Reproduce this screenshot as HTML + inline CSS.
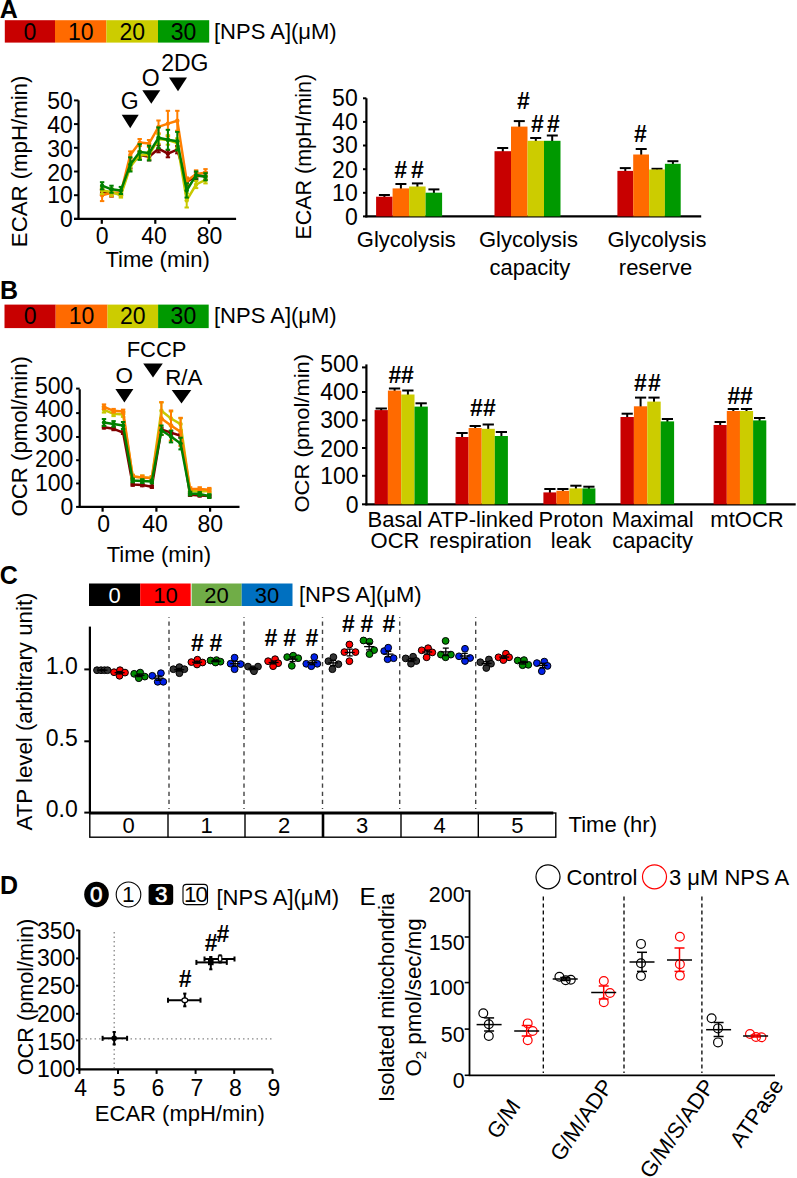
<!DOCTYPE html>
<html><head><meta charset="utf-8"><style>
html,body{margin:0;padding:0;background:#fff;}
svg{display:block;font-family:"Liberation Sans", sans-serif;}
</style></head><body>
<svg width="797" height="1178" viewBox="0 0 797 1178">
<rect width="797" height="1178" fill="#fff"/>
<text x="-0.3" y="17.6" font-size="25" text-anchor="start" font-weight="bold" fill="#000" >A</text>
<rect x="4.8" y="20.2" width="50.2" height="22.4" fill="#C80000" />
<text x="29.9" y="39.9" font-size="23" text-anchor="middle" font-weight="normal" fill="#000" >0</text>
<rect x="55.0" y="20.2" width="51.4" height="22.4" fill="#FF6A00" />
<text x="80.7" y="39.9" font-size="23" text-anchor="middle" font-weight="normal" fill="#000" >10</text>
<rect x="106.4" y="20.2" width="51.6" height="22.4" fill="#CCCC00" />
<text x="132.2" y="39.9" font-size="23" text-anchor="middle" font-weight="normal" fill="#000" >20</text>
<rect x="158.0" y="20.2" width="51.2" height="22.4" fill="#009900" />
<text x="183.6" y="39.9" font-size="23" text-anchor="middle" font-weight="normal" fill="#000" >30</text>
<text x="214.0" y="38.6" font-size="22" text-anchor="start" font-weight="normal" fill="#000" >[NPS A](μM)</text>
<line x1="78.5" y1="100.4" x2="78.5" y2="219.9" stroke="#000" stroke-width="2.2" />
<line x1="74.0" y1="218.9" x2="236.1" y2="218.9" stroke="#000" stroke-width="2.2" />
<line x1="74.0" y1="218.9" x2="78.5" y2="218.9" stroke="#000" stroke-width="2" />
<text x="72.9" y="226.8" font-size="23" text-anchor="end" font-weight="normal" fill="#000" >0</text>
<line x1="74.0" y1="195.2" x2="78.5" y2="195.2" stroke="#000" stroke-width="2" />
<text x="72.9" y="203.4" font-size="23" text-anchor="end" font-weight="normal" fill="#000" >10</text>
<line x1="74.0" y1="171.5" x2="78.5" y2="171.5" stroke="#000" stroke-width="2" />
<text x="72.9" y="180.5" font-size="23" text-anchor="end" font-weight="normal" fill="#000" >20</text>
<line x1="74.0" y1="147.8" x2="78.5" y2="147.8" stroke="#000" stroke-width="2" />
<text x="72.9" y="157.0" font-size="23" text-anchor="end" font-weight="normal" fill="#000" >30</text>
<line x1="74.0" y1="124.1" x2="78.5" y2="124.1" stroke="#000" stroke-width="2" />
<text x="72.9" y="132.6" font-size="23" text-anchor="end" font-weight="normal" fill="#000" >40</text>
<line x1="74.0" y1="100.4" x2="78.5" y2="100.4" stroke="#000" stroke-width="2" />
<text x="72.9" y="108.8" font-size="23" text-anchor="end" font-weight="normal" fill="#000" >50</text>
<line x1="101.8" y1="218.9" x2="101.8" y2="223.8" stroke="#000" stroke-width="2.2" />
<text x="102.2" y="243.6" font-size="23" text-anchor="middle" font-weight="normal" fill="#000" >0</text>
<line x1="155.3" y1="218.9" x2="155.3" y2="223.8" stroke="#000" stroke-width="2.2" />
<text x="154.1" y="243.6" font-size="23" text-anchor="middle" font-weight="normal" fill="#000" >40</text>
<line x1="209.0" y1="218.9" x2="209.0" y2="223.8" stroke="#000" stroke-width="2.2" />
<text x="209.5" y="243.6" font-size="23" text-anchor="middle" font-weight="normal" fill="#000" >80</text>
<text x="157.6" y="267.4" font-size="22" text-anchor="middle" font-weight="normal" fill="#000" >Time (min)</text>
<text transform="translate(26.8,161.4) rotate(-90)" font-size="21.5" text-anchor="middle" fill="#000" textLength="171.5" lengthAdjust="spacingAndGlyphs">ECAR (mpH/min)</text>
<polygon points="121.7,114.7 138.7,114.7 130.2,128.3" fill="#000"/>
<text x="129.8" y="109.2" font-size="23" text-anchor="middle" font-weight="normal" fill="#000" >G</text>
<polygon points="142.3,90.2 160.3,90.2 151.3,103.8" fill="#000"/>
<text x="150.6" y="85.6" font-size="23" text-anchor="middle" font-weight="normal" fill="#000" >O</text>
<polygon points="169.0,77.5 187.0,77.5 178.0,91.2" fill="#000"/>
<text x="184.8" y="71.3" font-size="23" text-anchor="middle" font-weight="normal" fill="#000" >2DG</text>
<polyline points="102.1,192.1 111.5,193.1 120.9,193.1 130.3,164.9 139.7,154.9 149.1,156.8 158.5,148.7 167.9,153.7 177.3,149.7 186.7,181.9 196.1,176.0 205.5,176.0" fill="none" stroke="#800000" stroke-width="2.5" stroke-linejoin="round"/>
<line x1="102.1" y1="189.7" x2="102.1" y2="194.5" stroke="#800000" stroke-width="2" />
<line x1="99.9" y1="189.7" x2="104.3" y2="189.7" stroke="#800000" stroke-width="2" />
<line x1="99.9" y1="194.5" x2="104.3" y2="194.5" stroke="#800000" stroke-width="2" />
<circle cx="102.1" cy="192.1" r="2.2" fill="#800000"/>
<line x1="111.5" y1="189.5" x2="111.5" y2="196.6" stroke="#800000" stroke-width="2" />
<line x1="109.3" y1="189.5" x2="113.7" y2="189.5" stroke="#800000" stroke-width="2" />
<line x1="109.3" y1="196.6" x2="113.7" y2="196.6" stroke="#800000" stroke-width="2" />
<circle cx="111.5" cy="193.1" r="2.2" fill="#800000"/>
<line x1="120.9" y1="190.7" x2="120.9" y2="195.4" stroke="#800000" stroke-width="2" />
<line x1="118.7" y1="190.7" x2="123.1" y2="190.7" stroke="#800000" stroke-width="2" />
<line x1="118.7" y1="195.4" x2="123.1" y2="195.4" stroke="#800000" stroke-width="2" />
<circle cx="120.9" cy="193.1" r="2.2" fill="#800000"/>
<line x1="130.3" y1="161.3" x2="130.3" y2="168.4" stroke="#800000" stroke-width="2" />
<line x1="128.1" y1="161.3" x2="132.5" y2="161.3" stroke="#800000" stroke-width="2" />
<line x1="128.1" y1="168.4" x2="132.5" y2="168.4" stroke="#800000" stroke-width="2" />
<circle cx="130.3" cy="164.9" r="2.2" fill="#800000"/>
<line x1="139.7" y1="151.4" x2="139.7" y2="158.5" stroke="#800000" stroke-width="2" />
<line x1="137.5" y1="151.4" x2="141.9" y2="151.4" stroke="#800000" stroke-width="2" />
<line x1="137.5" y1="158.5" x2="141.9" y2="158.5" stroke="#800000" stroke-width="2" />
<circle cx="139.7" cy="154.9" r="2.2" fill="#800000"/>
<line x1="149.1" y1="153.3" x2="149.1" y2="160.4" stroke="#800000" stroke-width="2" />
<line x1="146.9" y1="153.3" x2="151.3" y2="153.3" stroke="#800000" stroke-width="2" />
<line x1="146.9" y1="160.4" x2="151.3" y2="160.4" stroke="#800000" stroke-width="2" />
<circle cx="149.1" cy="156.8" r="2.2" fill="#800000"/>
<line x1="158.5" y1="145.2" x2="158.5" y2="152.3" stroke="#800000" stroke-width="2" />
<line x1="156.3" y1="145.2" x2="160.7" y2="145.2" stroke="#800000" stroke-width="2" />
<line x1="156.3" y1="152.3" x2="160.7" y2="152.3" stroke="#800000" stroke-width="2" />
<circle cx="158.5" cy="148.7" r="2.2" fill="#800000"/>
<line x1="167.9" y1="150.2" x2="167.9" y2="157.3" stroke="#800000" stroke-width="2" />
<line x1="165.7" y1="150.2" x2="170.1" y2="150.2" stroke="#800000" stroke-width="2" />
<line x1="165.7" y1="157.3" x2="170.1" y2="157.3" stroke="#800000" stroke-width="2" />
<circle cx="167.9" cy="153.7" r="2.2" fill="#800000"/>
<line x1="177.3" y1="146.1" x2="177.3" y2="153.3" stroke="#800000" stroke-width="2" />
<line x1="175.1" y1="146.1" x2="179.5" y2="146.1" stroke="#800000" stroke-width="2" />
<line x1="175.1" y1="153.3" x2="179.5" y2="153.3" stroke="#800000" stroke-width="2" />
<circle cx="177.3" cy="149.7" r="2.2" fill="#800000"/>
<line x1="186.7" y1="178.4" x2="186.7" y2="185.5" stroke="#800000" stroke-width="2" />
<line x1="184.5" y1="178.4" x2="188.9" y2="178.4" stroke="#800000" stroke-width="2" />
<line x1="184.5" y1="185.5" x2="188.9" y2="185.5" stroke="#800000" stroke-width="2" />
<circle cx="186.7" cy="181.9" r="2.2" fill="#800000"/>
<line x1="196.1" y1="172.4" x2="196.1" y2="179.6" stroke="#800000" stroke-width="2" />
<line x1="193.9" y1="172.4" x2="198.3" y2="172.4" stroke="#800000" stroke-width="2" />
<line x1="193.9" y1="179.6" x2="198.3" y2="179.6" stroke="#800000" stroke-width="2" />
<circle cx="196.1" cy="176.0" r="2.2" fill="#800000"/>
<line x1="205.5" y1="172.4" x2="205.5" y2="179.6" stroke="#800000" stroke-width="2" />
<line x1="203.3" y1="172.4" x2="207.7" y2="172.4" stroke="#800000" stroke-width="2" />
<line x1="203.3" y1="179.6" x2="207.7" y2="179.6" stroke="#800000" stroke-width="2" />
<circle cx="205.5" cy="176.0" r="2.2" fill="#800000"/>
<polyline points="102.1,195.2 111.5,192.8 120.9,192.8 130.3,154.9 139.7,142.6 149.1,143.5 158.5,126.9 167.9,123.6 177.3,120.8 186.7,181.0 196.1,173.9 205.5,172.7" fill="none" stroke="#FF7F00" stroke-width="2.5" stroke-linejoin="round"/>
<line x1="102.1" y1="189.3" x2="102.1" y2="201.1" stroke="#FF7F00" stroke-width="2" />
<line x1="99.9" y1="189.3" x2="104.3" y2="189.3" stroke="#FF7F00" stroke-width="2" />
<line x1="99.9" y1="201.1" x2="104.3" y2="201.1" stroke="#FF7F00" stroke-width="2" />
<circle cx="102.1" cy="195.2" r="2.2" fill="#FF7F00"/>
<line x1="111.5" y1="189.3" x2="111.5" y2="196.4" stroke="#FF7F00" stroke-width="2" />
<line x1="109.3" y1="189.3" x2="113.7" y2="189.3" stroke="#FF7F00" stroke-width="2" />
<line x1="109.3" y1="196.4" x2="113.7" y2="196.4" stroke="#FF7F00" stroke-width="2" />
<circle cx="111.5" cy="192.8" r="2.2" fill="#FF7F00"/>
<line x1="120.9" y1="190.5" x2="120.9" y2="195.2" stroke="#FF7F00" stroke-width="2" />
<line x1="118.7" y1="190.5" x2="123.1" y2="190.5" stroke="#FF7F00" stroke-width="2" />
<line x1="118.7" y1="195.2" x2="123.1" y2="195.2" stroke="#FF7F00" stroke-width="2" />
<circle cx="120.9" cy="192.8" r="2.2" fill="#FF7F00"/>
<line x1="130.3" y1="151.4" x2="130.3" y2="158.5" stroke="#FF7F00" stroke-width="2" />
<line x1="128.1" y1="151.4" x2="132.5" y2="151.4" stroke="#FF7F00" stroke-width="2" />
<line x1="128.1" y1="158.5" x2="132.5" y2="158.5" stroke="#FF7F00" stroke-width="2" />
<circle cx="130.3" cy="154.9" r="2.2" fill="#FF7F00"/>
<line x1="139.7" y1="139.0" x2="139.7" y2="146.1" stroke="#FF7F00" stroke-width="2" />
<line x1="137.5" y1="139.0" x2="141.9" y2="139.0" stroke="#FF7F00" stroke-width="2" />
<line x1="137.5" y1="146.1" x2="141.9" y2="146.1" stroke="#FF7F00" stroke-width="2" />
<circle cx="139.7" cy="142.6" r="2.2" fill="#FF7F00"/>
<line x1="149.1" y1="140.0" x2="149.1" y2="147.1" stroke="#FF7F00" stroke-width="2" />
<line x1="146.9" y1="140.0" x2="151.3" y2="140.0" stroke="#FF7F00" stroke-width="2" />
<line x1="146.9" y1="147.1" x2="151.3" y2="147.1" stroke="#FF7F00" stroke-width="2" />
<circle cx="149.1" cy="143.5" r="2.2" fill="#FF7F00"/>
<line x1="158.5" y1="120.5" x2="158.5" y2="133.3" stroke="#FF7F00" stroke-width="2" />
<line x1="156.3" y1="120.5" x2="160.7" y2="120.5" stroke="#FF7F00" stroke-width="2" />
<line x1="156.3" y1="133.3" x2="160.7" y2="133.3" stroke="#FF7F00" stroke-width="2" />
<circle cx="158.5" cy="126.9" r="2.2" fill="#FF7F00"/>
<line x1="167.9" y1="110.8" x2="167.9" y2="136.4" stroke="#FF7F00" stroke-width="2" />
<line x1="165.7" y1="110.8" x2="170.1" y2="110.8" stroke="#FF7F00" stroke-width="2" />
<line x1="165.7" y1="136.4" x2="170.1" y2="136.4" stroke="#FF7F00" stroke-width="2" />
<circle cx="167.9" cy="123.6" r="2.2" fill="#FF7F00"/>
<line x1="177.3" y1="110.8" x2="177.3" y2="130.7" stroke="#FF7F00" stroke-width="2" />
<line x1="175.1" y1="110.8" x2="179.5" y2="110.8" stroke="#FF7F00" stroke-width="2" />
<line x1="175.1" y1="130.7" x2="179.5" y2="130.7" stroke="#FF7F00" stroke-width="2" />
<circle cx="177.3" cy="120.8" r="2.2" fill="#FF7F00"/>
<line x1="186.7" y1="177.4" x2="186.7" y2="184.5" stroke="#FF7F00" stroke-width="2" />
<line x1="184.5" y1="177.4" x2="188.9" y2="177.4" stroke="#FF7F00" stroke-width="2" />
<line x1="184.5" y1="184.5" x2="188.9" y2="184.5" stroke="#FF7F00" stroke-width="2" />
<circle cx="186.7" cy="181.0" r="2.2" fill="#FF7F00"/>
<line x1="196.1" y1="170.3" x2="196.1" y2="177.4" stroke="#FF7F00" stroke-width="2" />
<line x1="193.9" y1="170.3" x2="198.3" y2="170.3" stroke="#FF7F00" stroke-width="2" />
<line x1="193.9" y1="177.4" x2="198.3" y2="177.4" stroke="#FF7F00" stroke-width="2" />
<circle cx="196.1" cy="173.9" r="2.2" fill="#FF7F00"/>
<line x1="205.5" y1="169.1" x2="205.5" y2="176.2" stroke="#FF7F00" stroke-width="2" />
<line x1="203.3" y1="169.1" x2="207.7" y2="169.1" stroke="#FF7F00" stroke-width="2" />
<line x1="203.3" y1="176.2" x2="207.7" y2="176.2" stroke="#FF7F00" stroke-width="2" />
<circle cx="205.5" cy="172.7" r="2.2" fill="#FF7F00"/>
<polyline points="102.1,190.5 111.5,192.1 120.9,195.2 130.3,166.8 139.7,154.9 149.1,154.9 158.5,139.0 167.9,140.0 177.3,143.1 186.7,200.4 196.1,184.5 205.5,179.8" fill="none" stroke="#C8C800" stroke-width="2.5" stroke-linejoin="round"/>
<line x1="102.1" y1="186.9" x2="102.1" y2="194.0" stroke="#C8C800" stroke-width="2" />
<line x1="99.9" y1="186.9" x2="104.3" y2="186.9" stroke="#C8C800" stroke-width="2" />
<line x1="99.9" y1="194.0" x2="104.3" y2="194.0" stroke="#C8C800" stroke-width="2" />
<circle cx="102.1" cy="190.5" r="2.2" fill="#C8C800"/>
<line x1="111.5" y1="188.6" x2="111.5" y2="195.7" stroke="#C8C800" stroke-width="2" />
<line x1="109.3" y1="188.6" x2="113.7" y2="188.6" stroke="#C8C800" stroke-width="2" />
<line x1="109.3" y1="195.7" x2="113.7" y2="195.7" stroke="#C8C800" stroke-width="2" />
<circle cx="111.5" cy="192.1" r="2.2" fill="#C8C800"/>
<line x1="120.9" y1="192.8" x2="120.9" y2="197.6" stroke="#C8C800" stroke-width="2" />
<line x1="118.7" y1="192.8" x2="123.1" y2="192.8" stroke="#C8C800" stroke-width="2" />
<line x1="118.7" y1="197.6" x2="123.1" y2="197.6" stroke="#C8C800" stroke-width="2" />
<circle cx="120.9" cy="195.2" r="2.2" fill="#C8C800"/>
<line x1="130.3" y1="163.2" x2="130.3" y2="170.3" stroke="#C8C800" stroke-width="2" />
<line x1="128.1" y1="163.2" x2="132.5" y2="163.2" stroke="#C8C800" stroke-width="2" />
<line x1="128.1" y1="170.3" x2="132.5" y2="170.3" stroke="#C8C800" stroke-width="2" />
<circle cx="130.3" cy="166.8" r="2.2" fill="#C8C800"/>
<line x1="139.7" y1="151.4" x2="139.7" y2="158.5" stroke="#C8C800" stroke-width="2" />
<line x1="137.5" y1="151.4" x2="141.9" y2="151.4" stroke="#C8C800" stroke-width="2" />
<line x1="137.5" y1="158.5" x2="141.9" y2="158.5" stroke="#C8C800" stroke-width="2" />
<circle cx="139.7" cy="154.9" r="2.2" fill="#C8C800"/>
<line x1="149.1" y1="151.4" x2="149.1" y2="158.5" stroke="#C8C800" stroke-width="2" />
<line x1="146.9" y1="151.4" x2="151.3" y2="151.4" stroke="#C8C800" stroke-width="2" />
<line x1="146.9" y1="158.5" x2="151.3" y2="158.5" stroke="#C8C800" stroke-width="2" />
<circle cx="149.1" cy="154.9" r="2.2" fill="#C8C800"/>
<line x1="158.5" y1="134.3" x2="158.5" y2="143.8" stroke="#C8C800" stroke-width="2" />
<line x1="156.3" y1="134.3" x2="160.7" y2="134.3" stroke="#C8C800" stroke-width="2" />
<line x1="156.3" y1="143.8" x2="160.7" y2="143.8" stroke="#C8C800" stroke-width="2" />
<circle cx="158.5" cy="139.0" r="2.2" fill="#C8C800"/>
<line x1="167.9" y1="135.2" x2="167.9" y2="144.7" stroke="#C8C800" stroke-width="2" />
<line x1="165.7" y1="135.2" x2="170.1" y2="135.2" stroke="#C8C800" stroke-width="2" />
<line x1="165.7" y1="144.7" x2="170.1" y2="144.7" stroke="#C8C800" stroke-width="2" />
<circle cx="167.9" cy="140.0" r="2.2" fill="#C8C800"/>
<line x1="177.3" y1="138.3" x2="177.3" y2="147.8" stroke="#C8C800" stroke-width="2" />
<line x1="175.1" y1="138.3" x2="179.5" y2="138.3" stroke="#C8C800" stroke-width="2" />
<line x1="175.1" y1="147.8" x2="179.5" y2="147.8" stroke="#C8C800" stroke-width="2" />
<circle cx="177.3" cy="143.1" r="2.2" fill="#C8C800"/>
<line x1="186.7" y1="193.3" x2="186.7" y2="207.5" stroke="#C8C800" stroke-width="2" />
<line x1="184.5" y1="193.3" x2="188.9" y2="193.3" stroke="#C8C800" stroke-width="2" />
<line x1="184.5" y1="207.5" x2="188.9" y2="207.5" stroke="#C8C800" stroke-width="2" />
<circle cx="186.7" cy="200.4" r="2.2" fill="#C8C800"/>
<line x1="196.1" y1="181.0" x2="196.1" y2="188.1" stroke="#C8C800" stroke-width="2" />
<line x1="193.9" y1="181.0" x2="198.3" y2="181.0" stroke="#C8C800" stroke-width="2" />
<line x1="193.9" y1="188.1" x2="198.3" y2="188.1" stroke="#C8C800" stroke-width="2" />
<circle cx="196.1" cy="184.5" r="2.2" fill="#C8C800"/>
<line x1="205.5" y1="176.2" x2="205.5" y2="183.4" stroke="#C8C800" stroke-width="2" />
<line x1="203.3" y1="176.2" x2="207.7" y2="176.2" stroke="#C8C800" stroke-width="2" />
<line x1="203.3" y1="183.4" x2="207.7" y2="183.4" stroke="#C8C800" stroke-width="2" />
<circle cx="205.5" cy="179.8" r="2.2" fill="#C8C800"/>
<polyline points="102.1,185.7 111.5,189.3 120.9,190.5 130.3,164.4 139.7,152.1 149.1,153.0 158.5,137.8 167.9,139.7 177.3,141.2 186.7,190.5 196.1,175.1 205.5,176.7" fill="none" stroke="#008000" stroke-width="2.5" stroke-linejoin="round"/>
<line x1="102.1" y1="182.2" x2="102.1" y2="189.3" stroke="#008000" stroke-width="2" />
<line x1="99.9" y1="182.2" x2="104.3" y2="182.2" stroke="#008000" stroke-width="2" />
<line x1="99.9" y1="189.3" x2="104.3" y2="189.3" stroke="#008000" stroke-width="2" />
<circle cx="102.1" cy="185.7" r="2.2" fill="#008000"/>
<line x1="111.5" y1="185.7" x2="111.5" y2="192.8" stroke="#008000" stroke-width="2" />
<line x1="109.3" y1="185.7" x2="113.7" y2="185.7" stroke="#008000" stroke-width="2" />
<line x1="109.3" y1="192.8" x2="113.7" y2="192.8" stroke="#008000" stroke-width="2" />
<circle cx="111.5" cy="189.3" r="2.2" fill="#008000"/>
<line x1="120.9" y1="186.9" x2="120.9" y2="194.0" stroke="#008000" stroke-width="2" />
<line x1="118.7" y1="186.9" x2="123.1" y2="186.9" stroke="#008000" stroke-width="2" />
<line x1="118.7" y1="194.0" x2="123.1" y2="194.0" stroke="#008000" stroke-width="2" />
<circle cx="120.9" cy="190.5" r="2.2" fill="#008000"/>
<line x1="130.3" y1="157.3" x2="130.3" y2="171.5" stroke="#008000" stroke-width="2" />
<line x1="128.1" y1="157.3" x2="132.5" y2="157.3" stroke="#008000" stroke-width="2" />
<line x1="128.1" y1="171.5" x2="132.5" y2="171.5" stroke="#008000" stroke-width="2" />
<circle cx="130.3" cy="164.4" r="2.2" fill="#008000"/>
<line x1="139.7" y1="144.2" x2="139.7" y2="159.9" stroke="#008000" stroke-width="2" />
<line x1="137.5" y1="144.2" x2="141.9" y2="144.2" stroke="#008000" stroke-width="2" />
<line x1="137.5" y1="159.9" x2="141.9" y2="159.9" stroke="#008000" stroke-width="2" />
<circle cx="139.7" cy="152.1" r="2.2" fill="#008000"/>
<line x1="149.1" y1="145.7" x2="149.1" y2="160.4" stroke="#008000" stroke-width="2" />
<line x1="146.9" y1="145.7" x2="151.3" y2="145.7" stroke="#008000" stroke-width="2" />
<line x1="146.9" y1="160.4" x2="151.3" y2="160.4" stroke="#008000" stroke-width="2" />
<circle cx="149.1" cy="153.0" r="2.2" fill="#008000"/>
<line x1="158.5" y1="127.4" x2="158.5" y2="148.3" stroke="#008000" stroke-width="2" />
<line x1="156.3" y1="127.4" x2="160.7" y2="127.4" stroke="#008000" stroke-width="2" />
<line x1="156.3" y1="148.3" x2="160.7" y2="148.3" stroke="#008000" stroke-width="2" />
<circle cx="158.5" cy="137.8" r="2.2" fill="#008000"/>
<line x1="167.9" y1="129.8" x2="167.9" y2="149.7" stroke="#008000" stroke-width="2" />
<line x1="165.7" y1="129.8" x2="170.1" y2="129.8" stroke="#008000" stroke-width="2" />
<line x1="165.7" y1="149.7" x2="170.1" y2="149.7" stroke="#008000" stroke-width="2" />
<circle cx="167.9" cy="139.7" r="2.2" fill="#008000"/>
<line x1="177.3" y1="131.9" x2="177.3" y2="150.4" stroke="#008000" stroke-width="2" />
<line x1="175.1" y1="131.9" x2="179.5" y2="131.9" stroke="#008000" stroke-width="2" />
<line x1="175.1" y1="150.4" x2="179.5" y2="150.4" stroke="#008000" stroke-width="2" />
<circle cx="177.3" cy="141.2" r="2.2" fill="#008000"/>
<line x1="186.7" y1="183.3" x2="186.7" y2="197.6" stroke="#008000" stroke-width="2" />
<line x1="184.5" y1="183.3" x2="188.9" y2="183.3" stroke="#008000" stroke-width="2" />
<line x1="184.5" y1="197.6" x2="188.9" y2="197.6" stroke="#008000" stroke-width="2" />
<circle cx="186.7" cy="190.5" r="2.2" fill="#008000"/>
<line x1="196.1" y1="171.5" x2="196.1" y2="178.6" stroke="#008000" stroke-width="2" />
<line x1="193.9" y1="171.5" x2="198.3" y2="171.5" stroke="#008000" stroke-width="2" />
<line x1="193.9" y1="178.6" x2="198.3" y2="178.6" stroke="#008000" stroke-width="2" />
<circle cx="196.1" cy="175.1" r="2.2" fill="#008000"/>
<line x1="205.5" y1="173.2" x2="205.5" y2="180.3" stroke="#008000" stroke-width="2" />
<line x1="203.3" y1="173.2" x2="207.7" y2="173.2" stroke="#008000" stroke-width="2" />
<line x1="203.3" y1="180.3" x2="207.7" y2="180.3" stroke="#008000" stroke-width="2" />
<circle cx="205.5" cy="176.7" r="2.2" fill="#008000"/>
<line x1="366.4" y1="98.3" x2="366.4" y2="217.4" stroke="#000" stroke-width="2.2" />
<line x1="365.4" y1="216.4" x2="701.2" y2="216.4" stroke="#000" stroke-width="2.2" />
<line x1="363.0" y1="216.4" x2="366.4" y2="216.4" stroke="#000" stroke-width="2" />
<text x="357.7" y="224.8" font-size="23" text-anchor="end" font-weight="normal" fill="#000" >0</text>
<line x1="363.0" y1="192.8" x2="366.4" y2="192.8" stroke="#000" stroke-width="2" />
<text x="357.7" y="201.0" font-size="23" text-anchor="end" font-weight="normal" fill="#000" >10</text>
<line x1="363.0" y1="169.2" x2="366.4" y2="169.2" stroke="#000" stroke-width="2" />
<text x="357.7" y="177.9" font-size="23" text-anchor="end" font-weight="normal" fill="#000" >20</text>
<line x1="363.0" y1="145.5" x2="366.4" y2="145.5" stroke="#000" stroke-width="2" />
<text x="357.7" y="153.0" font-size="23" text-anchor="end" font-weight="normal" fill="#000" >30</text>
<line x1="363.0" y1="121.9" x2="366.4" y2="121.9" stroke="#000" stroke-width="2" />
<text x="357.7" y="129.8" font-size="23" text-anchor="end" font-weight="normal" fill="#000" >40</text>
<line x1="363.0" y1="98.3" x2="366.4" y2="98.3" stroke="#000" stroke-width="2" />
<text x="357.7" y="106.0" font-size="23" text-anchor="end" font-weight="normal" fill="#000" >50</text>
<text transform="translate(311.3,156.7) rotate(-90)" font-size="21.5" text-anchor="middle" fill="#000" textLength="165.7" lengthAdjust="spacingAndGlyphs">ECAR (mpH/min)</text>
<line x1="384.4" y1="195.0" x2="384.4" y2="197.7" stroke="#000" stroke-width="2" />
<line x1="378.9" y1="195.0" x2="389.9" y2="195.0" stroke="#000" stroke-width="2" />
<rect x="376.1" y="196.7" width="16.5" height="19.7" fill="#C80000" />
<line x1="400.9" y1="184.0" x2="400.9" y2="189.4" stroke="#000" stroke-width="2" />
<line x1="395.4" y1="184.0" x2="406.4" y2="184.0" stroke="#000" stroke-width="2" />
<rect x="392.6" y="188.4" width="16.5" height="28.0" fill="#FF6A00" />
<line x1="417.4" y1="183.4" x2="417.4" y2="187.5" stroke="#000" stroke-width="2" />
<line x1="411.9" y1="183.4" x2="422.9" y2="183.4" stroke="#000" stroke-width="2" />
<rect x="409.1" y="186.5" width="16.5" height="29.9" fill="#CCCC00" />
<line x1="433.9" y1="189.4" x2="433.9" y2="193.7" stroke="#000" stroke-width="2" />
<line x1="428.4" y1="189.4" x2="439.4" y2="189.4" stroke="#000" stroke-width="2" />
<rect x="425.6" y="192.7" width="16.5" height="23.7" fill="#009900" />
<line x1="502.8" y1="148.0" x2="502.8" y2="152.2" stroke="#000" stroke-width="2" />
<line x1="497.2" y1="148.0" x2="508.2" y2="148.0" stroke="#000" stroke-width="2" />
<rect x="494.5" y="151.2" width="16.5" height="65.2" fill="#C80000" />
<line x1="519.2" y1="121.1" x2="519.2" y2="127.6" stroke="#000" stroke-width="2" />
<line x1="513.8" y1="121.1" x2="524.8" y2="121.1" stroke="#000" stroke-width="2" />
<rect x="511.0" y="126.6" width="16.5" height="89.8" fill="#FF6A00" />
<line x1="535.8" y1="138.0" x2="535.8" y2="141.8" stroke="#000" stroke-width="2" />
<line x1="530.2" y1="138.0" x2="541.2" y2="138.0" stroke="#000" stroke-width="2" />
<rect x="527.5" y="140.8" width="16.5" height="75.6" fill="#CCCC00" />
<line x1="552.2" y1="135.5" x2="552.2" y2="141.8" stroke="#000" stroke-width="2" />
<line x1="546.8" y1="135.5" x2="557.8" y2="135.5" stroke="#000" stroke-width="2" />
<rect x="544.0" y="140.8" width="16.5" height="75.6" fill="#009900" />
<line x1="625.3" y1="168.1" x2="625.3" y2="171.9" stroke="#000" stroke-width="2" />
<line x1="619.8" y1="168.1" x2="630.8" y2="168.1" stroke="#000" stroke-width="2" />
<rect x="617.4" y="170.9" width="15.8" height="45.5" fill="#C80000" />
<line x1="641.2" y1="149.0" x2="641.2" y2="155.5" stroke="#000" stroke-width="2" />
<line x1="635.7" y1="149.0" x2="646.7" y2="149.0" stroke="#000" stroke-width="2" />
<rect x="633.2" y="154.5" width="15.8" height="61.9" fill="#FF6A00" />
<line x1="657.0" y1="168.8" x2="657.0" y2="170.5" stroke="#000" stroke-width="2" />
<line x1="651.5" y1="168.8" x2="662.5" y2="168.8" stroke="#000" stroke-width="2" />
<rect x="649.1" y="169.5" width="15.8" height="46.9" fill="#CCCC00" />
<line x1="672.9" y1="161.2" x2="672.9" y2="164.8" stroke="#000" stroke-width="2" />
<line x1="667.4" y1="161.2" x2="678.4" y2="161.2" stroke="#000" stroke-width="2" />
<rect x="664.9" y="163.8" width="15.8" height="52.6" fill="#009900" />
<text x="400.7" y="177.6" font-size="23" text-anchor="middle" font-weight="bold" fill="#000" >#</text>
<text x="417.3" y="177.6" font-size="23" text-anchor="middle" font-weight="bold" fill="#000" >#</text>
<text x="523.3" y="108.6" font-size="23" text-anchor="middle" font-weight="bold" fill="#000" >#</text>
<text x="537.5" y="131.5" font-size="23" text-anchor="middle" font-weight="bold" fill="#000" >#</text>
<text x="553.5" y="131.5" font-size="23" text-anchor="middle" font-weight="bold" fill="#000" >#</text>
<text x="640.5" y="141.5" font-size="23" text-anchor="middle" font-weight="bold" fill="#000" >#</text>
<text x="406.3" y="247.3" font-size="22" text-anchor="middle" font-weight="normal" fill="#000" >Glycolysis</text>
<text x="528.4" y="247.3" font-size="22" text-anchor="middle" font-weight="normal" fill="#000" >Glycolysis</text>
<text x="529.8" y="274.8" font-size="22" text-anchor="middle" font-weight="normal" fill="#000" >capacity</text>
<text x="657.0" y="247.3" font-size="22" text-anchor="middle" font-weight="normal" fill="#000" >Glycolysis</text>
<text x="655.5" y="274.8" font-size="22" text-anchor="middle" font-weight="normal" fill="#000" >reserve</text>
<text x="0.0" y="298.9" font-size="25" text-anchor="start" font-weight="bold" fill="#000" >B</text>
<rect x="4.5" y="304.6" width="51.2" height="23.5" fill="#C80000" />
<text x="30.1" y="323.6" font-size="23" text-anchor="middle" font-weight="normal" fill="#000" >0</text>
<rect x="55.7" y="304.6" width="51.8" height="23.5" fill="#FF6A00" />
<text x="81.6" y="323.6" font-size="23" text-anchor="middle" font-weight="normal" fill="#000" >10</text>
<rect x="107.5" y="304.6" width="50.6" height="23.5" fill="#CCCC00" />
<text x="132.8" y="323.6" font-size="23" text-anchor="middle" font-weight="normal" fill="#000" >20</text>
<rect x="158.1" y="304.6" width="50.6" height="23.5" fill="#009900" />
<text x="183.4" y="323.6" font-size="23" text-anchor="middle" font-weight="normal" fill="#000" >30</text>
<text x="214.0" y="322.8" font-size="22" text-anchor="start" font-weight="normal" fill="#000" >[NPS A](μM)</text>
<line x1="79.7" y1="389.3" x2="79.7" y2="507.9" stroke="#000" stroke-width="2.2" />
<line x1="78.7" y1="506.9" x2="239.5" y2="506.9" stroke="#000" stroke-width="2.2" />
<line x1="76.1" y1="506.9" x2="79.7" y2="506.9" stroke="#000" stroke-width="2" />
<text x="73.4" y="514.8" font-size="23" text-anchor="end" font-weight="normal" fill="#000" >0</text>
<line x1="76.1" y1="483.4" x2="79.7" y2="483.4" stroke="#000" stroke-width="2" />
<text x="73.4" y="490.5" font-size="23" text-anchor="end" font-weight="normal" fill="#000" >100</text>
<line x1="76.1" y1="460.2" x2="79.7" y2="460.2" stroke="#000" stroke-width="2" />
<text x="73.4" y="467.3" font-size="23" text-anchor="end" font-weight="normal" fill="#000" >200</text>
<line x1="76.1" y1="437.0" x2="79.7" y2="437.0" stroke="#000" stroke-width="2" />
<text x="73.4" y="442.4" font-size="23" text-anchor="end" font-weight="normal" fill="#000" >300</text>
<line x1="76.1" y1="413.1" x2="79.7" y2="413.1" stroke="#000" stroke-width="2" />
<text x="73.4" y="417.4" font-size="23" text-anchor="end" font-weight="normal" fill="#000" >400</text>
<line x1="76.1" y1="388.6" x2="79.7" y2="388.6" stroke="#000" stroke-width="2" />
<text x="73.4" y="393.8" font-size="23" text-anchor="end" font-weight="normal" fill="#000" >500</text>
<line x1="102.6" y1="506.9" x2="102.6" y2="511.7" stroke="#000" stroke-width="2.2" />
<text x="103.6" y="532.4" font-size="23" text-anchor="middle" font-weight="normal" fill="#000" >0</text>
<line x1="156.4" y1="506.9" x2="156.4" y2="511.7" stroke="#000" stroke-width="2.2" />
<text x="155.1" y="532.4" font-size="23" text-anchor="middle" font-weight="normal" fill="#000" >40</text>
<line x1="210.1" y1="506.9" x2="210.1" y2="511.7" stroke="#000" stroke-width="2.2" />
<text x="210.2" y="532.4" font-size="23" text-anchor="middle" font-weight="normal" fill="#000" >80</text>
<text x="158.9" y="561.6" font-size="22" text-anchor="middle" font-weight="normal" fill="#000" >Time (min)</text>
<text transform="translate(27.2,436.3) rotate(-90)" font-size="21.5" text-anchor="middle" fill="#000" textLength="160.5" lengthAdjust="spacingAndGlyphs">OCR (pmol/min)</text>
<polygon points="143.2,363.4 162.8,363.4 153.0,377.5" fill="#000"/>
<text x="156.6" y="357.3" font-size="22" text-anchor="middle" font-weight="normal" fill="#000" >FCCP</text>
<polygon points="115.4,389.0 133.4,389.0 124.4,402.5" fill="#000"/>
<text x="124.3" y="383.2" font-size="22.5" text-anchor="middle" font-weight="normal" fill="#000" >O</text>
<polygon points="171.7,390.0 191.3,390.0 181.5,403.4" fill="#000"/>
<text x="183.8" y="384.8" font-size="22.3" text-anchor="middle" font-weight="normal" fill="#000" >R/A</text>
<polyline points="104.0,427.2 113.6,428.8 123.1,432.6 132.7,484.6 142.3,485.1 151.8,486.7 161.4,429.5 171.0,432.6 180.6,435.8 190.1,494.7 199.7,495.4 209.3,496.1" fill="none" stroke="#800000" stroke-width="2.5" stroke-linejoin="round"/>
<line x1="104.0" y1="425.8" x2="104.0" y2="428.6" stroke="#800000" stroke-width="2" />
<line x1="101.8" y1="425.8" x2="106.2" y2="425.8" stroke="#800000" stroke-width="2" />
<line x1="101.8" y1="428.6" x2="106.2" y2="428.6" stroke="#800000" stroke-width="2" />
<circle cx="104.0" cy="427.2" r="2.2" fill="#800000"/>
<line x1="113.6" y1="427.4" x2="113.6" y2="430.2" stroke="#800000" stroke-width="2" />
<line x1="111.4" y1="427.4" x2="115.8" y2="427.4" stroke="#800000" stroke-width="2" />
<line x1="111.4" y1="430.2" x2="115.8" y2="430.2" stroke="#800000" stroke-width="2" />
<circle cx="113.6" cy="428.8" r="2.2" fill="#800000"/>
<line x1="123.1" y1="431.2" x2="123.1" y2="434.0" stroke="#800000" stroke-width="2" />
<line x1="120.9" y1="431.2" x2="125.3" y2="431.2" stroke="#800000" stroke-width="2" />
<line x1="120.9" y1="434.0" x2="125.3" y2="434.0" stroke="#800000" stroke-width="2" />
<circle cx="123.1" cy="432.6" r="2.2" fill="#800000"/>
<line x1="132.7" y1="483.4" x2="132.7" y2="485.8" stroke="#800000" stroke-width="2" />
<line x1="130.5" y1="483.4" x2="134.9" y2="483.4" stroke="#800000" stroke-width="2" />
<line x1="130.5" y1="485.8" x2="134.9" y2="485.8" stroke="#800000" stroke-width="2" />
<circle cx="132.7" cy="484.6" r="2.2" fill="#800000"/>
<line x1="142.3" y1="483.9" x2="142.3" y2="486.3" stroke="#800000" stroke-width="2" />
<line x1="140.1" y1="483.9" x2="144.5" y2="483.9" stroke="#800000" stroke-width="2" />
<line x1="140.1" y1="486.3" x2="144.5" y2="486.3" stroke="#800000" stroke-width="2" />
<circle cx="142.3" cy="485.1" r="2.2" fill="#800000"/>
<line x1="151.8" y1="485.6" x2="151.8" y2="487.9" stroke="#800000" stroke-width="2" />
<line x1="149.7" y1="485.6" x2="154.0" y2="485.6" stroke="#800000" stroke-width="2" />
<line x1="149.7" y1="487.9" x2="154.0" y2="487.9" stroke="#800000" stroke-width="2" />
<circle cx="151.8" cy="486.7" r="2.2" fill="#800000"/>
<line x1="161.4" y1="427.6" x2="161.4" y2="431.4" stroke="#800000" stroke-width="2" />
<line x1="159.2" y1="427.6" x2="163.6" y2="427.6" stroke="#800000" stroke-width="2" />
<line x1="159.2" y1="431.4" x2="163.6" y2="431.4" stroke="#800000" stroke-width="2" />
<circle cx="161.4" cy="429.5" r="2.2" fill="#800000"/>
<line x1="171.0" y1="430.7" x2="171.0" y2="434.4" stroke="#800000" stroke-width="2" />
<line x1="168.8" y1="430.7" x2="173.2" y2="430.7" stroke="#800000" stroke-width="2" />
<line x1="168.8" y1="434.4" x2="173.2" y2="434.4" stroke="#800000" stroke-width="2" />
<circle cx="171.0" cy="432.6" r="2.2" fill="#800000"/>
<line x1="180.6" y1="434.0" x2="180.6" y2="437.7" stroke="#800000" stroke-width="2" />
<line x1="178.4" y1="434.0" x2="182.8" y2="434.0" stroke="#800000" stroke-width="2" />
<line x1="178.4" y1="437.7" x2="182.8" y2="437.7" stroke="#800000" stroke-width="2" />
<circle cx="180.6" cy="435.8" r="2.2" fill="#800000"/>
<line x1="190.1" y1="493.5" x2="190.1" y2="495.9" stroke="#800000" stroke-width="2" />
<line x1="187.9" y1="493.5" x2="192.3" y2="493.5" stroke="#800000" stroke-width="2" />
<line x1="187.9" y1="495.9" x2="192.3" y2="495.9" stroke="#800000" stroke-width="2" />
<circle cx="190.1" cy="494.7" r="2.2" fill="#800000"/>
<line x1="199.7" y1="494.2" x2="199.7" y2="496.6" stroke="#800000" stroke-width="2" />
<line x1="197.5" y1="494.2" x2="201.9" y2="494.2" stroke="#800000" stroke-width="2" />
<line x1="197.5" y1="496.6" x2="201.9" y2="496.6" stroke="#800000" stroke-width="2" />
<circle cx="199.7" cy="495.4" r="2.2" fill="#800000"/>
<line x1="209.3" y1="494.9" x2="209.3" y2="497.3" stroke="#800000" stroke-width="2" />
<line x1="207.1" y1="494.9" x2="211.5" y2="494.9" stroke="#800000" stroke-width="2" />
<line x1="207.1" y1="497.3" x2="211.5" y2="497.3" stroke="#800000" stroke-width="2" />
<circle cx="209.3" cy="496.1" r="2.2" fill="#800000"/>
<polyline points="104.0,409.8 113.6,413.8 123.1,414.5 132.7,476.6 142.3,477.4 151.8,478.1 161.4,410.8 171.0,418.5 180.6,424.1 190.1,491.0 199.7,491.4 209.3,491.0" fill="none" stroke="#C8C800" stroke-width="2.5" stroke-linejoin="round"/>
<line x1="104.0" y1="407.0" x2="104.0" y2="412.6" stroke="#C8C800" stroke-width="2" />
<line x1="101.8" y1="407.0" x2="106.2" y2="407.0" stroke="#C8C800" stroke-width="2" />
<line x1="101.8" y1="412.6" x2="106.2" y2="412.6" stroke="#C8C800" stroke-width="2" />
<circle cx="104.0" cy="409.8" r="2.2" fill="#C8C800"/>
<line x1="113.6" y1="411.5" x2="113.6" y2="416.1" stroke="#C8C800" stroke-width="2" />
<line x1="111.4" y1="411.5" x2="115.8" y2="411.5" stroke="#C8C800" stroke-width="2" />
<line x1="111.4" y1="416.1" x2="115.8" y2="416.1" stroke="#C8C800" stroke-width="2" />
<circle cx="113.6" cy="413.8" r="2.2" fill="#C8C800"/>
<line x1="123.1" y1="412.2" x2="123.1" y2="416.9" stroke="#C8C800" stroke-width="2" />
<line x1="120.9" y1="412.2" x2="125.3" y2="412.2" stroke="#C8C800" stroke-width="2" />
<line x1="120.9" y1="416.9" x2="125.3" y2="416.9" stroke="#C8C800" stroke-width="2" />
<circle cx="123.1" cy="414.5" r="2.2" fill="#C8C800"/>
<line x1="132.7" y1="474.8" x2="132.7" y2="478.5" stroke="#C8C800" stroke-width="2" />
<line x1="130.5" y1="474.8" x2="134.9" y2="474.8" stroke="#C8C800" stroke-width="2" />
<line x1="130.5" y1="478.5" x2="134.9" y2="478.5" stroke="#C8C800" stroke-width="2" />
<circle cx="132.7" cy="476.6" r="2.2" fill="#C8C800"/>
<line x1="142.3" y1="475.5" x2="142.3" y2="479.2" stroke="#C8C800" stroke-width="2" />
<line x1="140.1" y1="475.5" x2="144.5" y2="475.5" stroke="#C8C800" stroke-width="2" />
<line x1="140.1" y1="479.2" x2="144.5" y2="479.2" stroke="#C8C800" stroke-width="2" />
<circle cx="142.3" cy="477.4" r="2.2" fill="#C8C800"/>
<line x1="151.8" y1="476.2" x2="151.8" y2="479.9" stroke="#C8C800" stroke-width="2" />
<line x1="149.7" y1="476.2" x2="154.0" y2="476.2" stroke="#C8C800" stroke-width="2" />
<line x1="149.7" y1="479.9" x2="154.0" y2="479.9" stroke="#C8C800" stroke-width="2" />
<circle cx="151.8" cy="478.1" r="2.2" fill="#C8C800"/>
<line x1="161.4" y1="402.5" x2="161.4" y2="419.0" stroke="#C8C800" stroke-width="2" />
<line x1="159.2" y1="402.5" x2="163.6" y2="402.5" stroke="#C8C800" stroke-width="2" />
<line x1="159.2" y1="419.0" x2="163.6" y2="419.0" stroke="#C8C800" stroke-width="2" />
<circle cx="161.4" cy="410.8" r="2.2" fill="#C8C800"/>
<line x1="171.0" y1="411.5" x2="171.0" y2="425.5" stroke="#C8C800" stroke-width="2" />
<line x1="168.8" y1="411.5" x2="173.2" y2="411.5" stroke="#C8C800" stroke-width="2" />
<line x1="168.8" y1="425.5" x2="173.2" y2="425.5" stroke="#C8C800" stroke-width="2" />
<circle cx="171.0" cy="418.5" r="2.2" fill="#C8C800"/>
<line x1="180.6" y1="418.3" x2="180.6" y2="430.0" stroke="#C8C800" stroke-width="2" />
<line x1="178.4" y1="418.3" x2="182.8" y2="418.3" stroke="#C8C800" stroke-width="2" />
<line x1="178.4" y1="430.0" x2="182.8" y2="430.0" stroke="#C8C800" stroke-width="2" />
<circle cx="180.6" cy="424.1" r="2.2" fill="#C8C800"/>
<line x1="190.1" y1="489.1" x2="190.1" y2="492.8" stroke="#C8C800" stroke-width="2" />
<line x1="187.9" y1="489.1" x2="192.3" y2="489.1" stroke="#C8C800" stroke-width="2" />
<line x1="187.9" y1="492.8" x2="192.3" y2="492.8" stroke="#C8C800" stroke-width="2" />
<circle cx="190.1" cy="491.0" r="2.2" fill="#C8C800"/>
<line x1="199.7" y1="489.5" x2="199.7" y2="493.3" stroke="#C8C800" stroke-width="2" />
<line x1="197.5" y1="489.5" x2="201.9" y2="489.5" stroke="#C8C800" stroke-width="2" />
<line x1="197.5" y1="493.3" x2="201.9" y2="493.3" stroke="#C8C800" stroke-width="2" />
<circle cx="199.7" cy="491.4" r="2.2" fill="#C8C800"/>
<line x1="209.3" y1="489.1" x2="209.3" y2="492.8" stroke="#C8C800" stroke-width="2" />
<line x1="207.1" y1="489.1" x2="211.5" y2="489.1" stroke="#C8C800" stroke-width="2" />
<line x1="207.1" y1="492.8" x2="211.5" y2="492.8" stroke="#C8C800" stroke-width="2" />
<circle cx="209.3" cy="491.0" r="2.2" fill="#C8C800"/>
<polyline points="104.0,406.8 113.6,410.8 123.1,411.5 132.7,476.6 142.3,477.4 151.8,478.1 161.4,418.5 171.0,425.5 180.6,431.9 190.1,489.1 199.7,489.1 209.3,489.8" fill="none" stroke="#FF7F00" stroke-width="2.5" stroke-linejoin="round"/>
<line x1="104.0" y1="404.4" x2="104.0" y2="409.1" stroke="#FF7F00" stroke-width="2" />
<line x1="101.8" y1="404.4" x2="106.2" y2="404.4" stroke="#FF7F00" stroke-width="2" />
<line x1="101.8" y1="409.1" x2="106.2" y2="409.1" stroke="#FF7F00" stroke-width="2" />
<circle cx="104.0" cy="406.8" r="2.2" fill="#FF7F00"/>
<line x1="113.6" y1="408.9" x2="113.6" y2="412.6" stroke="#FF7F00" stroke-width="2" />
<line x1="111.4" y1="408.9" x2="115.8" y2="408.9" stroke="#FF7F00" stroke-width="2" />
<line x1="111.4" y1="412.6" x2="115.8" y2="412.6" stroke="#FF7F00" stroke-width="2" />
<circle cx="113.6" cy="410.8" r="2.2" fill="#FF7F00"/>
<line x1="123.1" y1="409.6" x2="123.1" y2="413.3" stroke="#FF7F00" stroke-width="2" />
<line x1="120.9" y1="409.6" x2="125.3" y2="409.6" stroke="#FF7F00" stroke-width="2" />
<line x1="120.9" y1="413.3" x2="125.3" y2="413.3" stroke="#FF7F00" stroke-width="2" />
<circle cx="123.1" cy="411.5" r="2.2" fill="#FF7F00"/>
<line x1="132.7" y1="474.8" x2="132.7" y2="478.5" stroke="#FF7F00" stroke-width="2" />
<line x1="130.5" y1="474.8" x2="134.9" y2="474.8" stroke="#FF7F00" stroke-width="2" />
<line x1="130.5" y1="478.5" x2="134.9" y2="478.5" stroke="#FF7F00" stroke-width="2" />
<circle cx="132.7" cy="476.6" r="2.2" fill="#FF7F00"/>
<line x1="142.3" y1="475.5" x2="142.3" y2="479.2" stroke="#FF7F00" stroke-width="2" />
<line x1="140.1" y1="475.5" x2="144.5" y2="475.5" stroke="#FF7F00" stroke-width="2" />
<line x1="140.1" y1="479.2" x2="144.5" y2="479.2" stroke="#FF7F00" stroke-width="2" />
<circle cx="142.3" cy="477.4" r="2.2" fill="#FF7F00"/>
<line x1="151.8" y1="476.2" x2="151.8" y2="479.9" stroke="#FF7F00" stroke-width="2" />
<line x1="149.7" y1="476.2" x2="154.0" y2="476.2" stroke="#FF7F00" stroke-width="2" />
<line x1="149.7" y1="479.9" x2="154.0" y2="479.9" stroke="#FF7F00" stroke-width="2" />
<circle cx="151.8" cy="478.1" r="2.2" fill="#FF7F00"/>
<line x1="161.4" y1="402.1" x2="161.4" y2="434.9" stroke="#FF7F00" stroke-width="2" />
<line x1="159.2" y1="402.1" x2="163.6" y2="402.1" stroke="#FF7F00" stroke-width="2" />
<line x1="159.2" y1="434.9" x2="163.6" y2="434.9" stroke="#FF7F00" stroke-width="2" />
<circle cx="161.4" cy="418.5" r="2.2" fill="#FF7F00"/>
<line x1="171.0" y1="410.5" x2="171.0" y2="440.5" stroke="#FF7F00" stroke-width="2" />
<line x1="168.8" y1="410.5" x2="173.2" y2="410.5" stroke="#FF7F00" stroke-width="2" />
<line x1="168.8" y1="440.5" x2="173.2" y2="440.5" stroke="#FF7F00" stroke-width="2" />
<circle cx="171.0" cy="425.5" r="2.2" fill="#FF7F00"/>
<line x1="180.6" y1="417.8" x2="180.6" y2="445.9" stroke="#FF7F00" stroke-width="2" />
<line x1="178.4" y1="417.8" x2="182.8" y2="417.8" stroke="#FF7F00" stroke-width="2" />
<line x1="178.4" y1="445.9" x2="182.8" y2="445.9" stroke="#FF7F00" stroke-width="2" />
<circle cx="180.6" cy="431.9" r="2.2" fill="#FF7F00"/>
<line x1="190.1" y1="487.2" x2="190.1" y2="491.0" stroke="#FF7F00" stroke-width="2" />
<line x1="187.9" y1="487.2" x2="192.3" y2="487.2" stroke="#FF7F00" stroke-width="2" />
<line x1="187.9" y1="491.0" x2="192.3" y2="491.0" stroke="#FF7F00" stroke-width="2" />
<circle cx="190.1" cy="489.1" r="2.2" fill="#FF7F00"/>
<line x1="199.7" y1="487.2" x2="199.7" y2="491.0" stroke="#FF7F00" stroke-width="2" />
<line x1="197.5" y1="487.2" x2="201.9" y2="487.2" stroke="#FF7F00" stroke-width="2" />
<line x1="197.5" y1="491.0" x2="201.9" y2="491.0" stroke="#FF7F00" stroke-width="2" />
<circle cx="199.7" cy="489.1" r="2.2" fill="#FF7F00"/>
<line x1="209.3" y1="487.9" x2="209.3" y2="491.7" stroke="#FF7F00" stroke-width="2" />
<line x1="207.1" y1="487.9" x2="211.5" y2="487.9" stroke="#FF7F00" stroke-width="2" />
<line x1="207.1" y1="491.7" x2="211.5" y2="491.7" stroke="#FF7F00" stroke-width="2" />
<circle cx="209.3" cy="489.8" r="2.2" fill="#FF7F00"/>
<polyline points="104.0,422.5 113.6,423.9 123.1,425.5 132.7,480.4 142.3,481.1 151.8,481.6 161.4,430.2 171.0,436.5 180.6,443.6 190.1,493.5 199.7,494.0 209.3,496.1" fill="none" stroke="#008000" stroke-width="2.5" stroke-linejoin="round"/>
<line x1="104.0" y1="419.0" x2="104.0" y2="426.0" stroke="#008000" stroke-width="2" />
<line x1="101.8" y1="419.0" x2="106.2" y2="419.0" stroke="#008000" stroke-width="2" />
<line x1="101.8" y1="426.0" x2="106.2" y2="426.0" stroke="#008000" stroke-width="2" />
<circle cx="104.0" cy="422.5" r="2.2" fill="#008000"/>
<line x1="113.6" y1="421.1" x2="113.6" y2="426.7" stroke="#008000" stroke-width="2" />
<line x1="111.4" y1="421.1" x2="115.8" y2="421.1" stroke="#008000" stroke-width="2" />
<line x1="111.4" y1="426.7" x2="115.8" y2="426.7" stroke="#008000" stroke-width="2" />
<circle cx="113.6" cy="423.9" r="2.2" fill="#008000"/>
<line x1="123.1" y1="422.0" x2="123.1" y2="429.0" stroke="#008000" stroke-width="2" />
<line x1="120.9" y1="422.0" x2="125.3" y2="422.0" stroke="#008000" stroke-width="2" />
<line x1="120.9" y1="429.0" x2="125.3" y2="429.0" stroke="#008000" stroke-width="2" />
<circle cx="123.1" cy="425.5" r="2.2" fill="#008000"/>
<line x1="132.7" y1="478.5" x2="132.7" y2="482.3" stroke="#008000" stroke-width="2" />
<line x1="130.5" y1="478.5" x2="134.9" y2="478.5" stroke="#008000" stroke-width="2" />
<line x1="130.5" y1="482.3" x2="134.9" y2="482.3" stroke="#008000" stroke-width="2" />
<circle cx="132.7" cy="480.4" r="2.2" fill="#008000"/>
<line x1="142.3" y1="479.2" x2="142.3" y2="483.0" stroke="#008000" stroke-width="2" />
<line x1="140.1" y1="479.2" x2="144.5" y2="479.2" stroke="#008000" stroke-width="2" />
<line x1="140.1" y1="483.0" x2="144.5" y2="483.0" stroke="#008000" stroke-width="2" />
<circle cx="142.3" cy="481.1" r="2.2" fill="#008000"/>
<line x1="151.8" y1="479.7" x2="151.8" y2="483.4" stroke="#008000" stroke-width="2" />
<line x1="149.7" y1="479.7" x2="154.0" y2="479.7" stroke="#008000" stroke-width="2" />
<line x1="149.7" y1="483.4" x2="154.0" y2="483.4" stroke="#008000" stroke-width="2" />
<circle cx="151.8" cy="481.6" r="2.2" fill="#008000"/>
<line x1="161.4" y1="425.5" x2="161.4" y2="434.9" stroke="#008000" stroke-width="2" />
<line x1="159.2" y1="425.5" x2="163.6" y2="425.5" stroke="#008000" stroke-width="2" />
<line x1="159.2" y1="434.9" x2="163.6" y2="434.9" stroke="#008000" stroke-width="2" />
<circle cx="161.4" cy="430.2" r="2.2" fill="#008000"/>
<line x1="171.0" y1="430.7" x2="171.0" y2="442.4" stroke="#008000" stroke-width="2" />
<line x1="168.8" y1="430.7" x2="173.2" y2="430.7" stroke="#008000" stroke-width="2" />
<line x1="168.8" y1="442.4" x2="173.2" y2="442.4" stroke="#008000" stroke-width="2" />
<circle cx="171.0" cy="436.5" r="2.2" fill="#008000"/>
<line x1="180.6" y1="437.7" x2="180.6" y2="449.4" stroke="#008000" stroke-width="2" />
<line x1="178.4" y1="437.7" x2="182.8" y2="437.7" stroke="#008000" stroke-width="2" />
<line x1="178.4" y1="449.4" x2="182.8" y2="449.4" stroke="#008000" stroke-width="2" />
<circle cx="180.6" cy="443.6" r="2.2" fill="#008000"/>
<line x1="190.1" y1="491.7" x2="190.1" y2="495.4" stroke="#008000" stroke-width="2" />
<line x1="187.9" y1="491.7" x2="192.3" y2="491.7" stroke="#008000" stroke-width="2" />
<line x1="187.9" y1="495.4" x2="192.3" y2="495.4" stroke="#008000" stroke-width="2" />
<circle cx="190.1" cy="493.5" r="2.2" fill="#008000"/>
<line x1="199.7" y1="492.1" x2="199.7" y2="495.9" stroke="#008000" stroke-width="2" />
<line x1="197.5" y1="492.1" x2="201.9" y2="492.1" stroke="#008000" stroke-width="2" />
<line x1="197.5" y1="495.9" x2="201.9" y2="495.9" stroke="#008000" stroke-width="2" />
<circle cx="199.7" cy="494.0" r="2.2" fill="#008000"/>
<line x1="209.3" y1="494.2" x2="209.3" y2="498.0" stroke="#008000" stroke-width="2" />
<line x1="207.1" y1="494.2" x2="211.5" y2="494.2" stroke="#008000" stroke-width="2" />
<line x1="207.1" y1="498.0" x2="211.5" y2="498.0" stroke="#008000" stroke-width="2" />
<circle cx="209.3" cy="496.1" r="2.2" fill="#008000"/>
<line x1="366.4" y1="364.4" x2="366.4" y2="505.3" stroke="#000" stroke-width="2.2" />
<line x1="365.4" y1="504.3" x2="795.7" y2="504.3" stroke="#000" stroke-width="2.2" />
<line x1="362.0" y1="504.3" x2="366.4" y2="504.3" stroke="#000" stroke-width="2" />
<text x="358.5" y="513.1" font-size="23" text-anchor="end" font-weight="normal" fill="#000" >0</text>
<line x1="362.0" y1="475.8" x2="366.4" y2="475.8" stroke="#000" stroke-width="2" />
<text x="358.5" y="484.0" font-size="23" text-anchor="end" font-weight="normal" fill="#000" >100</text>
<line x1="362.0" y1="448.0" x2="366.4" y2="448.0" stroke="#000" stroke-width="2" />
<text x="358.5" y="456.5" font-size="23" text-anchor="end" font-weight="normal" fill="#000" >200</text>
<line x1="362.0" y1="420.3" x2="366.4" y2="420.3" stroke="#000" stroke-width="2" />
<text x="358.5" y="428.2" font-size="23" text-anchor="end" font-weight="normal" fill="#000" >300</text>
<line x1="362.0" y1="392.0" x2="366.4" y2="392.0" stroke="#000" stroke-width="2" />
<text x="358.5" y="400.3" font-size="23" text-anchor="end" font-weight="normal" fill="#000" >400</text>
<line x1="362.0" y1="367.4" x2="366.4" y2="367.4" stroke="#000" stroke-width="2" />
<text x="358.5" y="371.8" font-size="23" text-anchor="end" font-weight="normal" fill="#000" >500</text>
<text transform="translate(309.2,433.2) rotate(-90)" font-size="21" text-anchor="middle" fill="#000" textLength="158.7" lengthAdjust="spacingAndGlyphs">OCR (pmol/min)</text>
<line x1="381.2" y1="408.5" x2="381.2" y2="411.1" stroke="#000" stroke-width="2" />
<line x1="375.6" y1="408.5" x2="386.9" y2="408.5" stroke="#000" stroke-width="2" />
<rect x="374.6" y="410.1" width="13.3" height="94.2" fill="#C80000" />
<line x1="394.6" y1="388.5" x2="394.6" y2="391.6" stroke="#000" stroke-width="2" />
<line x1="388.9" y1="388.5" x2="400.2" y2="388.5" stroke="#000" stroke-width="2" />
<rect x="387.9" y="390.6" width="13.3" height="113.7" fill="#FF6A00" />
<line x1="407.9" y1="390.5" x2="407.9" y2="395.5" stroke="#000" stroke-width="2" />
<line x1="402.2" y1="390.5" x2="413.5" y2="390.5" stroke="#000" stroke-width="2" />
<rect x="401.2" y="394.5" width="13.3" height="109.8" fill="#CCCC00" />
<line x1="421.1" y1="403.3" x2="421.1" y2="407.6" stroke="#000" stroke-width="2" />
<line x1="415.5" y1="403.3" x2="426.8" y2="403.3" stroke="#000" stroke-width="2" />
<rect x="414.5" y="406.6" width="13.3" height="97.7" fill="#009900" />
<line x1="462.1" y1="433.0" x2="462.1" y2="438.0" stroke="#000" stroke-width="2" />
<line x1="456.4" y1="433.0" x2="467.7" y2="433.0" stroke="#000" stroke-width="2" />
<rect x="455.5" y="437.0" width="13.1" height="67.3" fill="#C80000" />
<line x1="475.2" y1="426.0" x2="475.2" y2="429.0" stroke="#000" stroke-width="2" />
<line x1="469.6" y1="426.0" x2="480.8" y2="426.0" stroke="#000" stroke-width="2" />
<rect x="468.6" y="428.0" width="13.1" height="76.3" fill="#FF6A00" />
<line x1="488.2" y1="424.5" x2="488.2" y2="429.8" stroke="#000" stroke-width="2" />
<line x1="482.6" y1="424.5" x2="493.9" y2="424.5" stroke="#000" stroke-width="2" />
<rect x="481.7" y="428.8" width="13.1" height="75.5" fill="#CCCC00" />
<line x1="501.4" y1="432.0" x2="501.4" y2="437.0" stroke="#000" stroke-width="2" />
<line x1="495.8" y1="432.0" x2="507.0" y2="432.0" stroke="#000" stroke-width="2" />
<rect x="494.8" y="436.0" width="13.1" height="68.3" fill="#009900" />
<line x1="549.9" y1="489.0" x2="549.9" y2="493.4" stroke="#000" stroke-width="2" />
<line x1="544.3" y1="489.0" x2="555.5" y2="489.0" stroke="#000" stroke-width="2" />
<rect x="543.4" y="492.4" width="13.0" height="11.9" fill="#C80000" />
<line x1="562.9" y1="489.0" x2="562.9" y2="491.8" stroke="#000" stroke-width="2" />
<line x1="557.3" y1="489.0" x2="568.5" y2="489.0" stroke="#000" stroke-width="2" />
<rect x="556.4" y="490.8" width="13.0" height="13.5" fill="#FF6A00" />
<line x1="575.9" y1="485.7" x2="575.9" y2="489.4" stroke="#000" stroke-width="2" />
<line x1="570.3" y1="485.7" x2="581.5" y2="485.7" stroke="#000" stroke-width="2" />
<rect x="569.4" y="488.4" width="13.0" height="15.9" fill="#CCCC00" />
<line x1="588.9" y1="486.7" x2="588.9" y2="489.4" stroke="#000" stroke-width="2" />
<line x1="583.3" y1="486.7" x2="594.5" y2="486.7" stroke="#000" stroke-width="2" />
<rect x="582.4" y="488.4" width="13.0" height="15.9" fill="#009900" />
<line x1="627.2" y1="413.7" x2="627.2" y2="418.0" stroke="#000" stroke-width="2" />
<line x1="621.6" y1="413.7" x2="632.8" y2="413.7" stroke="#000" stroke-width="2" />
<rect x="620.5" y="417.0" width="13.4" height="87.3" fill="#C80000" />
<line x1="640.6" y1="397.6" x2="640.6" y2="407.3" stroke="#000" stroke-width="2" />
<line x1="635.0" y1="397.6" x2="646.2" y2="397.6" stroke="#000" stroke-width="2" />
<rect x="633.9" y="406.3" width="13.4" height="98.0" fill="#FF6A00" />
<line x1="654.0" y1="397.6" x2="654.0" y2="402.6" stroke="#000" stroke-width="2" />
<line x1="648.4" y1="397.6" x2="659.6" y2="397.6" stroke="#000" stroke-width="2" />
<rect x="647.3" y="401.6" width="13.4" height="102.7" fill="#CCCC00" />
<line x1="667.4" y1="419.0" x2="667.4" y2="422.4" stroke="#000" stroke-width="2" />
<line x1="661.8" y1="419.0" x2="673.0" y2="419.0" stroke="#000" stroke-width="2" />
<rect x="660.7" y="421.4" width="13.4" height="82.9" fill="#009900" />
<line x1="720.2" y1="422.0" x2="720.2" y2="426.0" stroke="#000" stroke-width="2" />
<line x1="714.6" y1="422.0" x2="725.8" y2="422.0" stroke="#000" stroke-width="2" />
<rect x="713.6" y="425.0" width="13.2" height="79.3" fill="#C80000" />
<line x1="733.3" y1="409.0" x2="733.3" y2="412.0" stroke="#000" stroke-width="2" />
<line x1="727.7" y1="409.0" x2="738.9" y2="409.0" stroke="#000" stroke-width="2" />
<rect x="726.8" y="411.0" width="13.2" height="93.3" fill="#FF6A00" />
<line x1="746.5" y1="409.0" x2="746.5" y2="412.0" stroke="#000" stroke-width="2" />
<line x1="740.9" y1="409.0" x2="752.1" y2="409.0" stroke="#000" stroke-width="2" />
<rect x="739.9" y="411.0" width="13.2" height="93.3" fill="#CCCC00" />
<line x1="759.6" y1="418.0" x2="759.6" y2="421.4" stroke="#000" stroke-width="2" />
<line x1="754.0" y1="418.0" x2="765.2" y2="418.0" stroke="#000" stroke-width="2" />
<rect x="753.1" y="420.4" width="13.2" height="83.9" fill="#009900" />
<text x="395.0" y="382.7" font-size="23" text-anchor="middle" font-weight="bold" fill="#000" >#</text>
<text x="407.5" y="382.7" font-size="23" text-anchor="middle" font-weight="bold" fill="#000" >#</text>
<text x="476.5" y="416.0" font-size="23" text-anchor="middle" font-weight="bold" fill="#000" >#</text>
<text x="489.5" y="416.0" font-size="23" text-anchor="middle" font-weight="bold" fill="#000" >#</text>
<text x="640.5" y="390.9" font-size="23" text-anchor="middle" font-weight="bold" fill="#000" >#</text>
<text x="654.5" y="390.9" font-size="23" text-anchor="middle" font-weight="bold" fill="#000" >#</text>
<text x="734.0" y="404.0" font-size="23" text-anchor="middle" font-weight="bold" fill="#000" >#</text>
<text x="746.5" y="404.0" font-size="23" text-anchor="middle" font-weight="bold" fill="#000" >#</text>
<text x="395.0" y="526.5" font-size="22" text-anchor="middle" font-weight="normal" fill="#000" >Basal</text>
<text x="395.0" y="547.5" font-size="22" text-anchor="middle" font-weight="normal" fill="#000" >OCR</text>
<text x="480.5" y="526.5" font-size="22" text-anchor="middle" font-weight="normal" fill="#000" >ATP-linked</text>
<text x="480.5" y="547.5" font-size="22" text-anchor="middle" font-weight="normal" fill="#000" >respiration</text>
<text x="571.0" y="526.5" font-size="22" text-anchor="middle" font-weight="normal" fill="#000" >Proton</text>
<text x="571.0" y="547.5" font-size="22" text-anchor="middle" font-weight="normal" fill="#000" >leak</text>
<text x="652.7" y="526.5" font-size="22" text-anchor="middle" font-weight="normal" fill="#000" >Maximal</text>
<text x="652.7" y="547.5" font-size="22" text-anchor="middle" font-weight="normal" fill="#000" >capacity</text>
<text x="747.0" y="526.5" font-size="22" text-anchor="middle" font-weight="normal" fill="#000" >mtOCR</text>
<text x="-0.2" y="584.3" font-size="25" text-anchor="start" font-weight="bold" fill="#000" >C</text>
<rect x="89.0" y="583.5" width="51.2" height="22.5" fill="#000" />
<rect x="140.2" y="583.5" width="50.5" height="22.5" fill="#FF0000" />
<rect x="191.6" y="583.5" width="50.1" height="22.5" fill="#70AD47" />
<rect x="241.7" y="583.5" width="50.8" height="22.5" fill="#0070C0" />
<text x="114.6" y="602.5" font-size="22" text-anchor="middle" font-weight="normal" fill="#fff" >0</text>
<text x="165.5" y="602.5" font-size="22" text-anchor="middle" font-weight="normal" fill="#000" >10</text>
<text x="216.6" y="602.5" font-size="22" text-anchor="middle" font-weight="normal" fill="#000" >20</text>
<text x="267.1" y="602.5" font-size="22" text-anchor="middle" font-weight="normal" fill="#000" >30</text>
<text x="299.0" y="602.0" font-size="22" text-anchor="start" font-weight="normal" fill="#000" >[NPS A](μM)</text>
<line x1="89.9" y1="626.6" x2="89.9" y2="813.0" stroke="#000" stroke-width="2.2" />
<line x1="84.3" y1="812.6" x2="89.9" y2="812.6" stroke="#000" stroke-width="2" />
<text x="77.8" y="817.1" font-size="23" text-anchor="end" font-weight="normal" fill="#000" >0.0</text>
<line x1="84.3" y1="741.3" x2="89.9" y2="741.3" stroke="#000" stroke-width="2" />
<text x="77.8" y="745.8" font-size="23" text-anchor="end" font-weight="normal" fill="#000" >0.5</text>
<line x1="84.3" y1="669.4" x2="89.9" y2="669.4" stroke="#000" stroke-width="2" />
<text x="77.8" y="673.9" font-size="23" text-anchor="end" font-weight="normal" fill="#000" >1.0</text>
<line x1="169.0" y1="617.0" x2="169.0" y2="809.0" stroke="#444" stroke-width="1.4" stroke-dasharray="4.2,3.9" stroke-dashoffset="3.5"/>
<line x1="244.0" y1="617.0" x2="244.0" y2="809.0" stroke="#444" stroke-width="1.4" stroke-dasharray="4.2,3.9" stroke-dashoffset="3.5"/>
<line x1="322.5" y1="617.0" x2="322.5" y2="809.0" stroke="#444" stroke-width="1.4" stroke-dasharray="4.2,3.9" stroke-dashoffset="3.5"/>
<line x1="399.7" y1="617.0" x2="399.7" y2="809.0" stroke="#444" stroke-width="1.4" stroke-dasharray="4.2,3.9" stroke-dashoffset="3.5"/>
<line x1="475.7" y1="617.0" x2="475.7" y2="809.0" stroke="#444" stroke-width="1.4" stroke-dasharray="4.2,3.9" stroke-dashoffset="3.5"/>
<line x1="89.0" y1="813.0" x2="553.3" y2="813.0" stroke="#000" stroke-width="3" />
<rect x="89.8" y="813" width="466" height="24.2" fill="none" stroke="#000" stroke-width="1.4"/>
<line x1="168.0" y1="813.0" x2="168.0" y2="837.2" stroke="#000" stroke-width="1.4" />
<line x1="245.0" y1="813.0" x2="245.0" y2="837.2" stroke="#000" stroke-width="1.4" />
<line x1="323.0" y1="813.0" x2="323.0" y2="837.2" stroke="#000" stroke-width="2.6" />
<line x1="401.0" y1="813.0" x2="401.0" y2="837.2" stroke="#000" stroke-width="1.4" />
<line x1="478.3" y1="813.0" x2="478.3" y2="837.2" stroke="#000" stroke-width="1.4" />
<text x="128.7" y="833.0" font-size="22" text-anchor="middle" font-weight="normal" fill="#000" >0</text>
<text x="206.5" y="833.0" font-size="22" text-anchor="middle" font-weight="normal" fill="#000" >1</text>
<text x="284.0" y="833.0" font-size="22" text-anchor="middle" font-weight="normal" fill="#000" >2</text>
<text x="362.0" y="833.0" font-size="22" text-anchor="middle" font-weight="normal" fill="#000" >3</text>
<text x="439.6" y="833.0" font-size="22" text-anchor="middle" font-weight="normal" fill="#000" >4</text>
<text x="517.3" y="833.0" font-size="22" text-anchor="middle" font-weight="normal" fill="#000" >5</text>
<text x="568.6" y="832.0" font-size="22" text-anchor="start" font-weight="normal" fill="#000" >Time (hr)</text>
<text transform="translate(32.1,711.5) rotate(-90)" font-size="21.6" text-anchor="middle" fill="#000" textLength="238" lengthAdjust="spacingAndGlyphs">ATP level (arbitrary unit)</text>
<circle cx="97.0" cy="670.2" r="3.4" fill="#333333" stroke="#000" stroke-width="1"/>
<circle cx="101.0" cy="670.2" r="3.4" fill="#333333" stroke="#000" stroke-width="1"/>
<circle cx="104.5" cy="670.2" r="3.4" fill="#333333" stroke="#000" stroke-width="1"/>
<circle cx="107.5" cy="670.2" r="3.4" fill="#333333" stroke="#000" stroke-width="1"/>
<line x1="97.5" y1="670.2" x2="107.5" y2="670.2" stroke="#000" stroke-width="1.3" />
<line x1="102.5" y1="669.6" x2="102.5" y2="670.8" stroke="#000" stroke-width="1.3" />
<line x1="99.5" y1="669.6" x2="105.5" y2="669.6" stroke="#000" stroke-width="1.3" />
<line x1="99.5" y1="670.8" x2="105.5" y2="670.8" stroke="#000" stroke-width="1.3" />
<circle cx="114.0" cy="672.2" r="3.4" fill="#FF0000" stroke="#000" stroke-width="1"/>
<circle cx="120.0" cy="670.2" r="3.4" fill="#FF0000" stroke="#000" stroke-width="1"/>
<circle cx="125.0" cy="672.6" r="3.4" fill="#FF0000" stroke="#000" stroke-width="1"/>
<circle cx="119.5" cy="675.8" r="3.4" fill="#FF0000" stroke="#000" stroke-width="1"/>
<line x1="114.6" y1="672.7" x2="124.6" y2="672.7" stroke="#000" stroke-width="1.3" />
<line x1="119.6" y1="671.5" x2="119.6" y2="673.9" stroke="#000" stroke-width="1.3" />
<line x1="116.6" y1="671.5" x2="122.6" y2="671.5" stroke="#000" stroke-width="1.3" />
<line x1="116.6" y1="673.9" x2="122.6" y2="673.9" stroke="#000" stroke-width="1.3" />
<circle cx="134.2" cy="673.8" r="3.4" fill="#008C00" stroke="#000" stroke-width="1"/>
<circle cx="140.2" cy="672.6" r="3.4" fill="#008C00" stroke="#000" stroke-width="1"/>
<circle cx="144.8" cy="676.6" r="3.4" fill="#008C00" stroke="#000" stroke-width="1"/>
<circle cx="138.8" cy="678.2" r="3.4" fill="#008C00" stroke="#000" stroke-width="1"/>
<line x1="134.5" y1="675.3" x2="144.5" y2="675.3" stroke="#000" stroke-width="1.3" />
<line x1="139.5" y1="674.0" x2="139.5" y2="676.6" stroke="#000" stroke-width="1.3" />
<line x1="136.5" y1="674.0" x2="142.5" y2="674.0" stroke="#000" stroke-width="1.3" />
<line x1="136.5" y1="676.6" x2="142.5" y2="676.6" stroke="#000" stroke-width="1.3" />
<circle cx="152.3" cy="675.8" r="3.4" fill="#0020E8" stroke="#000" stroke-width="1"/>
<circle cx="160.9" cy="673.2" r="3.4" fill="#0020E8" stroke="#000" stroke-width="1"/>
<circle cx="157.7" cy="681.8" r="3.4" fill="#0020E8" stroke="#000" stroke-width="1"/>
<circle cx="163.3" cy="681.8" r="3.4" fill="#0020E8" stroke="#000" stroke-width="1"/>
<line x1="153.6" y1="678.1" x2="163.6" y2="678.1" stroke="#000" stroke-width="1.3" />
<line x1="158.6" y1="676.0" x2="158.6" y2="680.3" stroke="#000" stroke-width="1.3" />
<line x1="155.6" y1="676.0" x2="161.6" y2="676.0" stroke="#000" stroke-width="1.3" />
<line x1="155.6" y1="680.3" x2="161.6" y2="680.3" stroke="#000" stroke-width="1.3" />
<circle cx="173.4" cy="669.2" r="3.4" fill="#333333" stroke="#000" stroke-width="1"/>
<circle cx="179.4" cy="667.1" r="3.4" fill="#333333" stroke="#000" stroke-width="1"/>
<circle cx="184.4" cy="669.2" r="3.4" fill="#333333" stroke="#000" stroke-width="1"/>
<circle cx="179.4" cy="673.2" r="3.4" fill="#333333" stroke="#000" stroke-width="1"/>
<line x1="174.2" y1="669.7" x2="184.2" y2="669.7" stroke="#000" stroke-width="1.3" />
<line x1="179.2" y1="668.4" x2="179.2" y2="671.0" stroke="#000" stroke-width="1.3" />
<line x1="176.2" y1="668.4" x2="182.2" y2="668.4" stroke="#000" stroke-width="1.3" />
<line x1="176.2" y1="671.0" x2="182.2" y2="671.0" stroke="#000" stroke-width="1.3" />
<circle cx="191.4" cy="662.1" r="3.4" fill="#FF0000" stroke="#000" stroke-width="1"/>
<circle cx="197.4" cy="659.7" r="3.4" fill="#FF0000" stroke="#000" stroke-width="1"/>
<circle cx="202.5" cy="662.5" r="3.4" fill="#FF0000" stroke="#000" stroke-width="1"/>
<circle cx="197.0" cy="664.5" r="3.4" fill="#FF0000" stroke="#000" stroke-width="1"/>
<line x1="192.1" y1="662.2" x2="202.1" y2="662.2" stroke="#000" stroke-width="1.3" />
<line x1="197.1" y1="661.2" x2="197.1" y2="663.2" stroke="#000" stroke-width="1.3" />
<line x1="194.1" y1="661.2" x2="200.1" y2="661.2" stroke="#000" stroke-width="1.3" />
<line x1="194.1" y1="663.2" x2="200.1" y2="663.2" stroke="#000" stroke-width="1.3" />
<circle cx="210.5" cy="660.5" r="3.4" fill="#008C00" stroke="#000" stroke-width="1"/>
<circle cx="216.5" cy="660.1" r="3.4" fill="#008C00" stroke="#000" stroke-width="1"/>
<circle cx="220.5" cy="661.7" r="3.4" fill="#008C00" stroke="#000" stroke-width="1"/>
<circle cx="215.5" cy="662.5" r="3.4" fill="#008C00" stroke="#000" stroke-width="1"/>
<line x1="210.8" y1="661.2" x2="220.8" y2="661.2" stroke="#000" stroke-width="1.3" />
<line x1="215.8" y1="660.6" x2="215.8" y2="661.8" stroke="#000" stroke-width="1.3" />
<line x1="212.8" y1="660.6" x2="218.8" y2="660.6" stroke="#000" stroke-width="1.3" />
<line x1="212.8" y1="661.8" x2="218.8" y2="661.8" stroke="#000" stroke-width="1.3" />
<circle cx="230.6" cy="663.7" r="3.4" fill="#0020E8" stroke="#000" stroke-width="1"/>
<circle cx="234.6" cy="657.7" r="3.4" fill="#0020E8" stroke="#000" stroke-width="1"/>
<circle cx="240.6" cy="664.1" r="3.4" fill="#0020E8" stroke="#000" stroke-width="1"/>
<circle cx="234.6" cy="669.2" r="3.4" fill="#0020E8" stroke="#000" stroke-width="1"/>
<line x1="230.1" y1="663.7" x2="240.1" y2="663.7" stroke="#000" stroke-width="1.3" />
<line x1="235.1" y1="661.3" x2="235.1" y2="666.0" stroke="#000" stroke-width="1.3" />
<line x1="232.1" y1="661.3" x2="238.1" y2="661.3" stroke="#000" stroke-width="1.3" />
<line x1="232.1" y1="666.0" x2="238.1" y2="666.0" stroke="#000" stroke-width="1.3" />
<circle cx="248.0" cy="666.6" r="3.4" fill="#333333" stroke="#000" stroke-width="1"/>
<circle cx="253.0" cy="669.2" r="3.4" fill="#333333" stroke="#000" stroke-width="1"/>
<circle cx="258.0" cy="666.6" r="3.4" fill="#333333" stroke="#000" stroke-width="1"/>
<circle cx="254.0" cy="671.2" r="3.4" fill="#333333" stroke="#000" stroke-width="1"/>
<line x1="248.2" y1="668.4" x2="258.2" y2="668.4" stroke="#000" stroke-width="1.3" />
<line x1="253.2" y1="667.3" x2="253.2" y2="669.5" stroke="#000" stroke-width="1.3" />
<line x1="250.2" y1="667.3" x2="256.2" y2="667.3" stroke="#000" stroke-width="1.3" />
<line x1="250.2" y1="669.5" x2="256.2" y2="669.5" stroke="#000" stroke-width="1.3" />
<circle cx="268.1" cy="661.2" r="3.4" fill="#FF0000" stroke="#000" stroke-width="1"/>
<circle cx="275.1" cy="659.2" r="3.4" fill="#FF0000" stroke="#000" stroke-width="1"/>
<circle cx="278.2" cy="663.2" r="3.4" fill="#FF0000" stroke="#000" stroke-width="1"/>
<circle cx="273.1" cy="666.2" r="3.4" fill="#FF0000" stroke="#000" stroke-width="1"/>
<line x1="268.6" y1="662.5" x2="278.6" y2="662.5" stroke="#000" stroke-width="1.3" />
<line x1="273.6" y1="661.0" x2="273.6" y2="663.9" stroke="#000" stroke-width="1.3" />
<line x1="270.6" y1="661.0" x2="276.6" y2="661.0" stroke="#000" stroke-width="1.3" />
<line x1="270.6" y1="663.9" x2="276.6" y2="663.9" stroke="#000" stroke-width="1.3" />
<circle cx="287.2" cy="657.1" r="3.4" fill="#008C00" stroke="#000" stroke-width="1"/>
<circle cx="293.2" cy="655.7" r="3.4" fill="#008C00" stroke="#000" stroke-width="1"/>
<circle cx="298.2" cy="658.2" r="3.4" fill="#008C00" stroke="#000" stroke-width="1"/>
<circle cx="291.8" cy="665.8" r="3.4" fill="#008C00" stroke="#000" stroke-width="1"/>
<line x1="287.6" y1="659.2" x2="297.6" y2="659.2" stroke="#000" stroke-width="1.3" />
<line x1="292.6" y1="656.9" x2="292.6" y2="661.5" stroke="#000" stroke-width="1.3" />
<line x1="289.6" y1="656.9" x2="295.6" y2="656.9" stroke="#000" stroke-width="1.3" />
<line x1="289.6" y1="661.5" x2="295.6" y2="661.5" stroke="#000" stroke-width="1.3" />
<circle cx="306.3" cy="663.8" r="3.4" fill="#0020E8" stroke="#000" stroke-width="1"/>
<circle cx="314.3" cy="657.1" r="3.4" fill="#0020E8" stroke="#000" stroke-width="1"/>
<circle cx="317.3" cy="663.8" r="3.4" fill="#0020E8" stroke="#000" stroke-width="1"/>
<circle cx="311.3" cy="666.2" r="3.4" fill="#0020E8" stroke="#000" stroke-width="1"/>
<line x1="307.3" y1="662.7" x2="317.3" y2="662.7" stroke="#000" stroke-width="1.3" />
<line x1="312.3" y1="660.8" x2="312.3" y2="664.7" stroke="#000" stroke-width="1.3" />
<line x1="309.3" y1="660.8" x2="315.3" y2="660.8" stroke="#000" stroke-width="1.3" />
<line x1="309.3" y1="664.7" x2="315.3" y2="664.7" stroke="#000" stroke-width="1.3" />
<circle cx="328.4" cy="661.2" r="3.4" fill="#333333" stroke="#000" stroke-width="1"/>
<circle cx="333.4" cy="657.1" r="3.4" fill="#333333" stroke="#000" stroke-width="1"/>
<circle cx="338.4" cy="664.2" r="3.4" fill="#333333" stroke="#000" stroke-width="1"/>
<circle cx="332.4" cy="669.2" r="3.4" fill="#333333" stroke="#000" stroke-width="1"/>
<line x1="328.1" y1="662.9" x2="338.1" y2="662.9" stroke="#000" stroke-width="1.3" />
<line x1="333.1" y1="660.4" x2="333.1" y2="665.5" stroke="#000" stroke-width="1.3" />
<line x1="330.1" y1="660.4" x2="336.1" y2="660.4" stroke="#000" stroke-width="1.3" />
<line x1="330.1" y1="665.5" x2="336.1" y2="665.5" stroke="#000" stroke-width="1.3" />
<circle cx="344.4" cy="652.1" r="3.4" fill="#FF0000" stroke="#000" stroke-width="1"/>
<circle cx="349.4" cy="644.5" r="3.4" fill="#FF0000" stroke="#000" stroke-width="1"/>
<circle cx="355.5" cy="652.1" r="3.4" fill="#FF0000" stroke="#000" stroke-width="1"/>
<circle cx="349.4" cy="661.2" r="3.4" fill="#FF0000" stroke="#000" stroke-width="1"/>
<line x1="344.7" y1="652.5" x2="354.7" y2="652.5" stroke="#000" stroke-width="1.3" />
<line x1="349.7" y1="649.1" x2="349.7" y2="655.9" stroke="#000" stroke-width="1.3" />
<line x1="346.7" y1="649.1" x2="352.7" y2="649.1" stroke="#000" stroke-width="1.3" />
<line x1="346.7" y1="655.9" x2="352.7" y2="655.9" stroke="#000" stroke-width="1.3" />
<circle cx="363.5" cy="640.5" r="3.4" fill="#008C00" stroke="#000" stroke-width="1"/>
<circle cx="369.5" cy="641.7" r="3.4" fill="#008C00" stroke="#000" stroke-width="1"/>
<circle cx="374.1" cy="650.1" r="3.4" fill="#008C00" stroke="#000" stroke-width="1"/>
<circle cx="369.5" cy="654.1" r="3.4" fill="#008C00" stroke="#000" stroke-width="1"/>
<line x1="364.1" y1="646.6" x2="374.1" y2="646.6" stroke="#000" stroke-width="1.3" />
<line x1="369.1" y1="643.3" x2="369.1" y2="649.9" stroke="#000" stroke-width="1.3" />
<line x1="366.1" y1="643.3" x2="372.1" y2="643.3" stroke="#000" stroke-width="1.3" />
<line x1="366.1" y1="649.9" x2="372.1" y2="649.9" stroke="#000" stroke-width="1.3" />
<circle cx="384.2" cy="651.1" r="3.4" fill="#0020E8" stroke="#000" stroke-width="1"/>
<circle cx="388.2" cy="647.7" r="3.4" fill="#0020E8" stroke="#000" stroke-width="1"/>
<circle cx="393.6" cy="658.2" r="3.4" fill="#0020E8" stroke="#000" stroke-width="1"/>
<circle cx="387.6" cy="659.2" r="3.4" fill="#0020E8" stroke="#000" stroke-width="1"/>
<line x1="383.4" y1="654.1" x2="393.4" y2="654.1" stroke="#000" stroke-width="1.3" />
<line x1="388.4" y1="651.3" x2="388.4" y2="656.8" stroke="#000" stroke-width="1.3" />
<line x1="385.4" y1="651.3" x2="391.4" y2="651.3" stroke="#000" stroke-width="1.3" />
<line x1="385.4" y1="656.8" x2="391.4" y2="656.8" stroke="#000" stroke-width="1.3" />
<circle cx="405.7" cy="658.4" r="3.4" fill="#333333" stroke="#000" stroke-width="1"/>
<circle cx="413.1" cy="656.7" r="3.4" fill="#333333" stroke="#000" stroke-width="1"/>
<circle cx="416.3" cy="661.0" r="3.4" fill="#333333" stroke="#000" stroke-width="1"/>
<circle cx="411.0" cy="663.7" r="3.4" fill="#333333" stroke="#000" stroke-width="1"/>
<line x1="406.5" y1="660.0" x2="416.5" y2="660.0" stroke="#000" stroke-width="1.3" />
<line x1="411.5" y1="658.4" x2="411.5" y2="661.5" stroke="#000" stroke-width="1.3" />
<line x1="408.5" y1="658.4" x2="414.5" y2="658.4" stroke="#000" stroke-width="1.3" />
<line x1="408.5" y1="661.5" x2="414.5" y2="661.5" stroke="#000" stroke-width="1.3" />
<circle cx="421.7" cy="650.3" r="3.4" fill="#FF0000" stroke="#000" stroke-width="1"/>
<circle cx="428.1" cy="648.2" r="3.4" fill="#FF0000" stroke="#000" stroke-width="1"/>
<circle cx="432.3" cy="652.4" r="3.4" fill="#FF0000" stroke="#000" stroke-width="1"/>
<circle cx="426.6" cy="657.3" r="3.4" fill="#FF0000" stroke="#000" stroke-width="1"/>
<line x1="422.2" y1="652.0" x2="432.2" y2="652.0" stroke="#000" stroke-width="1.3" />
<line x1="427.2" y1="650.1" x2="427.2" y2="654.0" stroke="#000" stroke-width="1.3" />
<line x1="424.2" y1="650.1" x2="430.2" y2="650.1" stroke="#000" stroke-width="1.3" />
<line x1="424.2" y1="654.0" x2="430.2" y2="654.0" stroke="#000" stroke-width="1.3" />
<circle cx="440.9" cy="654.6" r="3.4" fill="#008C00" stroke="#000" stroke-width="1"/>
<circle cx="445.6" cy="640.9" r="3.4" fill="#008C00" stroke="#000" stroke-width="1"/>
<circle cx="450.9" cy="654.6" r="3.4" fill="#008C00" stroke="#000" stroke-width="1"/>
<circle cx="445.6" cy="657.3" r="3.4" fill="#008C00" stroke="#000" stroke-width="1"/>
<line x1="440.8" y1="651.9" x2="450.8" y2="651.9" stroke="#000" stroke-width="1.3" />
<line x1="445.8" y1="648.1" x2="445.8" y2="655.6" stroke="#000" stroke-width="1.3" />
<line x1="442.8" y1="648.1" x2="448.8" y2="648.1" stroke="#000" stroke-width="1.3" />
<line x1="442.8" y1="655.6" x2="448.8" y2="655.6" stroke="#000" stroke-width="1.3" />
<circle cx="459.0" cy="656.3" r="3.4" fill="#0020E8" stroke="#000" stroke-width="1"/>
<circle cx="465.0" cy="648.8" r="3.4" fill="#0020E8" stroke="#000" stroke-width="1"/>
<circle cx="470.1" cy="658.0" r="3.4" fill="#0020E8" stroke="#000" stroke-width="1"/>
<circle cx="465.0" cy="661.0" r="3.4" fill="#0020E8" stroke="#000" stroke-width="1"/>
<line x1="459.8" y1="656.0" x2="469.8" y2="656.0" stroke="#000" stroke-width="1.3" />
<line x1="464.8" y1="653.4" x2="464.8" y2="658.6" stroke="#000" stroke-width="1.3" />
<line x1="461.8" y1="653.4" x2="467.8" y2="653.4" stroke="#000" stroke-width="1.3" />
<line x1="461.8" y1="658.6" x2="467.8" y2="658.6" stroke="#000" stroke-width="1.3" />
<circle cx="480.3" cy="662.2" r="3.4" fill="#333333" stroke="#000" stroke-width="1"/>
<circle cx="488.9" cy="659.5" r="3.4" fill="#333333" stroke="#000" stroke-width="1"/>
<circle cx="491.0" cy="663.7" r="3.4" fill="#333333" stroke="#000" stroke-width="1"/>
<circle cx="486.3" cy="668.0" r="3.4" fill="#333333" stroke="#000" stroke-width="1"/>
<line x1="481.6" y1="663.4" x2="491.6" y2="663.4" stroke="#000" stroke-width="1.3" />
<line x1="486.6" y1="661.6" x2="486.6" y2="665.1" stroke="#000" stroke-width="1.3" />
<line x1="483.6" y1="661.6" x2="489.6" y2="661.6" stroke="#000" stroke-width="1.3" />
<line x1="483.6" y1="665.1" x2="489.6" y2="665.1" stroke="#000" stroke-width="1.3" />
<circle cx="498.5" cy="657.3" r="3.4" fill="#FF0000" stroke="#000" stroke-width="1"/>
<circle cx="505.9" cy="653.7" r="3.4" fill="#FF0000" stroke="#000" stroke-width="1"/>
<circle cx="509.1" cy="657.3" r="3.4" fill="#FF0000" stroke="#000" stroke-width="1"/>
<circle cx="503.4" cy="660.1" r="3.4" fill="#FF0000" stroke="#000" stroke-width="1"/>
<line x1="499.2" y1="657.1" x2="509.2" y2="657.1" stroke="#000" stroke-width="1.3" />
<line x1="504.2" y1="655.8" x2="504.2" y2="658.4" stroke="#000" stroke-width="1.3" />
<line x1="501.2" y1="655.8" x2="507.2" y2="655.8" stroke="#000" stroke-width="1.3" />
<line x1="501.2" y1="658.4" x2="507.2" y2="658.4" stroke="#000" stroke-width="1.3" />
<circle cx="517.7" cy="660.5" r="3.4" fill="#008C00" stroke="#000" stroke-width="1"/>
<circle cx="524.0" cy="660.1" r="3.4" fill="#008C00" stroke="#000" stroke-width="1"/>
<circle cx="528.3" cy="664.8" r="3.4" fill="#008C00" stroke="#000" stroke-width="1"/>
<circle cx="522.6" cy="665.2" r="3.4" fill="#008C00" stroke="#000" stroke-width="1"/>
<line x1="518.1" y1="662.6" x2="528.1" y2="662.6" stroke="#000" stroke-width="1.3" />
<line x1="523.1" y1="661.3" x2="523.1" y2="664.0" stroke="#000" stroke-width="1.3" />
<line x1="520.1" y1="661.3" x2="526.1" y2="661.3" stroke="#000" stroke-width="1.3" />
<line x1="520.1" y1="664.0" x2="526.1" y2="664.0" stroke="#000" stroke-width="1.3" />
<circle cx="536.9" cy="663.1" r="3.4" fill="#0020E8" stroke="#000" stroke-width="1"/>
<circle cx="544.3" cy="661.6" r="3.4" fill="#0020E8" stroke="#000" stroke-width="1"/>
<circle cx="547.5" cy="665.9" r="3.4" fill="#0020E8" stroke="#000" stroke-width="1"/>
<circle cx="541.8" cy="671.2" r="3.4" fill="#0020E8" stroke="#000" stroke-width="1"/>
<line x1="537.6" y1="665.5" x2="547.6" y2="665.5" stroke="#000" stroke-width="1.3" />
<line x1="542.6" y1="663.3" x2="542.6" y2="667.6" stroke="#000" stroke-width="1.3" />
<line x1="539.6" y1="663.3" x2="545.6" y2="663.3" stroke="#000" stroke-width="1.3" />
<line x1="539.6" y1="667.6" x2="545.6" y2="667.6" stroke="#000" stroke-width="1.3" />
<text x="197.5" y="650.5" font-size="23" text-anchor="middle" font-weight="bold" fill="#000" >#</text>
<text x="216.0" y="650.5" font-size="23" text-anchor="middle" font-weight="bold" fill="#000" >#</text>
<text x="271.0" y="646.3" font-size="23" text-anchor="middle" font-weight="bold" fill="#000" >#</text>
<text x="289.7" y="646.3" font-size="23" text-anchor="middle" font-weight="bold" fill="#000" >#</text>
<text x="312.0" y="646.3" font-size="23" text-anchor="middle" font-weight="bold" fill="#000" >#</text>
<text x="348.5" y="632.3" font-size="23" text-anchor="middle" font-weight="bold" fill="#000" >#</text>
<text x="367.0" y="632.3" font-size="23" text-anchor="middle" font-weight="bold" fill="#000" >#</text>
<text x="389.0" y="632.3" font-size="23" text-anchor="middle" font-weight="bold" fill="#000" >#</text>
<text x="0.0" y="893.9" font-size="25" text-anchor="start" font-weight="bold" fill="#000" >D</text>
<ellipse cx="96.5" cy="894.5" rx="12.3" ry="12.7" fill="#000"/>
<text x="96.2" y="901.7" font-size="22.5" text-anchor="middle" font-weight="normal" fill="#fff" stroke="#fff" stroke-width="0.6">0</text>
<ellipse cx="128.5" cy="894.5" rx="12.3" ry="12.5" fill="none" stroke="#000" stroke-width="1.1"/>
<text x="128.3" y="901.7" font-size="22.5" text-anchor="middle" font-weight="normal" fill="#000" >1</text>
<rect x="148.6" y="883.9" width="24.6" height="21.2" rx="3.5" fill="#000"/>
<text x="161.3" y="901.7" font-size="22.5" text-anchor="middle" font-weight="normal" fill="#fff" stroke="#fff" stroke-width="0.6">3</text>
<rect x="183" y="884.4" width="24.5" height="20.2" rx="3.5" fill="none" stroke="#000" stroke-width="1.1"/>
<text x="195.4" y="901.7" font-size="22.5" text-anchor="middle" font-weight="normal" fill="#000" letter-spacing="-1.2">10</text>
<text x="216.5" y="904.5" font-size="22" text-anchor="start" font-weight="normal" fill="#000" >[NPS A](μM)</text>
<line x1="79.3" y1="929.9" x2="79.3" y2="1070.4" stroke="#000" stroke-width="2.2" />
<line x1="78.3" y1="1069.4" x2="272.6" y2="1069.4" stroke="#000" stroke-width="2.2" />
<line x1="76.1" y1="1069.1" x2="79.3" y2="1069.1" stroke="#000" stroke-width="2" />
<text x="75.4" y="1076.8" font-size="23" text-anchor="end" font-weight="normal" fill="#000" >100</text>
<line x1="76.1" y1="1040.4" x2="79.3" y2="1040.4" stroke="#000" stroke-width="2" />
<text x="75.4" y="1049.5" font-size="23" text-anchor="end" font-weight="normal" fill="#000" >150</text>
<line x1="76.1" y1="1013.8" x2="79.3" y2="1013.8" stroke="#000" stroke-width="2" />
<text x="75.4" y="1021.5" font-size="23" text-anchor="end" font-weight="normal" fill="#000" >200</text>
<line x1="76.1" y1="985.7" x2="79.3" y2="985.7" stroke="#000" stroke-width="2" />
<text x="75.4" y="993.5" font-size="23" text-anchor="end" font-weight="normal" fill="#000" >250</text>
<line x1="76.1" y1="958.4" x2="79.3" y2="958.4" stroke="#000" stroke-width="2" />
<text x="75.4" y="966.1" font-size="23" text-anchor="end" font-weight="normal" fill="#000" >300</text>
<line x1="76.1" y1="930.4" x2="79.3" y2="930.4" stroke="#000" stroke-width="2" />
<text x="75.4" y="938.8" font-size="23" text-anchor="end" font-weight="normal" fill="#000" >350</text>
<line x1="79.4" y1="1069.4" x2="79.4" y2="1073.9" stroke="#000" stroke-width="2" />
<text x="80.6" y="1095.8" font-size="23" text-anchor="middle" font-weight="normal" fill="#000" >4</text>
<line x1="118.0" y1="1069.4" x2="118.0" y2="1073.9" stroke="#000" stroke-width="2" />
<text x="119.2" y="1095.8" font-size="23" text-anchor="middle" font-weight="normal" fill="#000" >5</text>
<line x1="156.6" y1="1069.4" x2="156.6" y2="1073.9" stroke="#000" stroke-width="2" />
<text x="157.8" y="1095.8" font-size="23" text-anchor="middle" font-weight="normal" fill="#000" >6</text>
<line x1="195.6" y1="1069.4" x2="195.6" y2="1073.9" stroke="#000" stroke-width="2" />
<text x="196.8" y="1095.8" font-size="23" text-anchor="middle" font-weight="normal" fill="#000" >7</text>
<line x1="234.2" y1="1069.4" x2="234.2" y2="1073.9" stroke="#000" stroke-width="2" />
<text x="235.4" y="1095.8" font-size="23" text-anchor="middle" font-weight="normal" fill="#000" >8</text>
<line x1="272.6" y1="1069.4" x2="272.6" y2="1073.9" stroke="#000" stroke-width="2" />
<text x="273.8" y="1095.8" font-size="23" text-anchor="middle" font-weight="normal" fill="#000" >9</text>
<text x="179.8" y="1120.8" font-size="22" text-anchor="middle" font-weight="normal" fill="#000" >ECAR (mpH/min)</text>
<text transform="translate(32.7,997.0) rotate(-90)" font-size="22.3" text-anchor="middle" fill="#000" textLength="156.5" lengthAdjust="spacingAndGlyphs">OCR (pmol/min)</text>
<line x1="114.2" y1="932.0" x2="114.2" y2="1068.0" stroke="#888" stroke-width="1.3" stroke-dasharray="1.5,3"/>
<line x1="81.0" y1="1038.9" x2="273.0" y2="1038.9" stroke="#888" stroke-width="1.3" stroke-dasharray="1.5,3"/>
<line x1="102.6" y1="1038.3" x2="127.1" y2="1038.3" stroke="#000" stroke-width="2" />
<line x1="102.6" y1="1035.8" x2="102.6" y2="1040.8" stroke="#000" stroke-width="2" />
<line x1="127.1" y1="1035.8" x2="127.1" y2="1040.8" stroke="#000" stroke-width="2" />
<line x1="114.2" y1="1032.0" x2="114.2" y2="1044.4" stroke="#000" stroke-width="2" />
<line x1="112.6" y1="1032.0" x2="115.8" y2="1032.0" stroke="#000" stroke-width="2" />
<line x1="112.6" y1="1044.4" x2="115.8" y2="1044.4" stroke="#000" stroke-width="2" />
<circle cx="114.2" cy="1038.3" r="2.8" fill="#000"/>
<line x1="168.0" y1="1000.2" x2="200.5" y2="1000.2" stroke="#000" stroke-width="2" />
<line x1="168.0" y1="997.7" x2="168.0" y2="1002.7" stroke="#000" stroke-width="2" />
<line x1="200.5" y1="997.7" x2="200.5" y2="1002.7" stroke="#000" stroke-width="2" />
<line x1="184.8" y1="993.6" x2="184.8" y2="1006.3" stroke="#000" stroke-width="2" />
<line x1="183.2" y1="993.6" x2="186.4" y2="993.6" stroke="#000" stroke-width="2" />
<line x1="183.2" y1="1006.3" x2="186.4" y2="1006.3" stroke="#000" stroke-width="2" />
<ellipse cx="184.8" cy="1000.2" rx="2.9" ry="2.3" fill="#fff" stroke="#000" stroke-width="1.1"/>
<line x1="196.4" y1="962.4" x2="226.8" y2="962.4" stroke="#000" stroke-width="2" />
<line x1="196.4" y1="959.9" x2="196.4" y2="964.9" stroke="#000" stroke-width="2" />
<line x1="226.8" y1="959.9" x2="226.8" y2="964.9" stroke="#000" stroke-width="2" />
<line x1="210.8" y1="957.0" x2="210.8" y2="969.3" stroke="#000" stroke-width="2" />
<line x1="209.2" y1="957.0" x2="212.4" y2="957.0" stroke="#000" stroke-width="2" />
<line x1="209.2" y1="969.3" x2="212.4" y2="969.3" stroke="#000" stroke-width="2" />
<rect x="208" y="959.6" width="5.6" height="5.6" fill="#000"/>
<line x1="204.5" y1="959.0" x2="234.5" y2="959.0" stroke="#000" stroke-width="2" />
<line x1="204.5" y1="956.5" x2="204.5" y2="961.5" stroke="#000" stroke-width="2" />
<line x1="234.5" y1="956.5" x2="234.5" y2="961.5" stroke="#000" stroke-width="2" />
<line x1="220.1" y1="955.3" x2="220.1" y2="962.5" stroke="#000" stroke-width="2" />
<line x1="218.5" y1="955.3" x2="221.7" y2="955.3" stroke="#000" stroke-width="2" />
<line x1="218.5" y1="962.5" x2="221.7" y2="962.5" stroke="#000" stroke-width="2" />
<rect x="218.4" y="955.9" width="3.4" height="5.2" fill="#fff" stroke="#000" stroke-width="1.1"/>
<text x="185.2" y="987.0" font-size="23" text-anchor="middle" font-weight="bold" fill="#000" >#</text>
<text x="211.2" y="950.5" font-size="23" text-anchor="middle" font-weight="bold" fill="#000" >#</text>
<text x="222.9" y="942.3" font-size="23" text-anchor="middle" font-weight="bold" fill="#000" >#</text>
<text x="359.5" y="904.8" font-size="24.5" text-anchor="start" font-weight="normal" fill="#000" >E</text>
<line x1="469.5" y1="890.3" x2="469.5" y2="1075.8" stroke="#000" stroke-width="1.8" />
<line x1="468.8" y1="1075.3" x2="775.0" y2="1075.3" stroke="#000" stroke-width="1.8" />
<line x1="464.7" y1="1075.3" x2="469.5" y2="1075.3" stroke="#000" stroke-width="1.6" />
<text x="464.7" y="1088.4" font-size="21.5" text-anchor="end" font-weight="normal" fill="#000" >0</text>
<line x1="464.7" y1="1029.1" x2="469.5" y2="1029.1" stroke="#000" stroke-width="1.6" />
<text x="464.7" y="1041.9" font-size="21.5" text-anchor="end" font-weight="normal" fill="#000" >50</text>
<line x1="464.7" y1="982.6" x2="469.5" y2="982.6" stroke="#000" stroke-width="1.6" />
<text x="464.7" y="995.4" font-size="21.5" text-anchor="end" font-weight="normal" fill="#000" >100</text>
<line x1="464.7" y1="937.0" x2="469.5" y2="937.0" stroke="#000" stroke-width="1.6" />
<text x="464.7" y="949.8" font-size="21.5" text-anchor="end" font-weight="normal" fill="#000" >150</text>
<line x1="464.7" y1="891.0" x2="469.5" y2="891.0" stroke="#000" stroke-width="1.6" />
<text x="464.7" y="902.4" font-size="21.5" text-anchor="end" font-weight="normal" fill="#000" >200</text>
<line x1="543.3" y1="896.5" x2="543.3" y2="1073.0" stroke="#000" stroke-width="1.3" stroke-dasharray="4,3"/>
<line x1="624.0" y1="896.5" x2="624.0" y2="1073.0" stroke="#000" stroke-width="1.3" stroke-dasharray="4,3"/>
<line x1="701.9" y1="896.5" x2="701.9" y2="1073.0" stroke="#000" stroke-width="1.3" stroke-dasharray="4,3"/>
<circle cx="548" cy="876.8" r="12" fill="none" stroke="#000" stroke-width="1.2"/>
<text x="566.5" y="884.7" font-size="22" text-anchor="start" font-weight="normal" fill="#000" >Control</text>
<circle cx="654.5" cy="876.8" r="12" fill="none" stroke="#FF0000" stroke-width="1.2"/>
<text x="669.0" y="884.7" font-size="22" text-anchor="start" font-weight="normal" fill="#000" >3 μM NPS A</text>
<text transform="translate(394.4,997.4) rotate(-90)" font-size="22.9" text-anchor="middle" fill="#000" textLength="209" lengthAdjust="spacingAndGlyphs">Isolated mitochondria</text>
<text transform="translate(420.8,1076.6) rotate(-90)" font-size="22.3" text-anchor="start">O<tspan font-size="15" dy="5">2</tspan><tspan dy="-5"> pmol/sec/mg</tspan></text>
<circle cx="483.3" cy="1013.2" r="4.4" fill="none" stroke="#000" stroke-width="1.2"/>
<circle cx="488.8" cy="1024.2" r="4.4" fill="none" stroke="#000" stroke-width="1.2"/>
<circle cx="488.8" cy="1036.0" r="4.4" fill="none" stroke="#000" stroke-width="1.2"/>
<line x1="476.6" y1="1024.6" x2="501.6" y2="1024.6" stroke="#000" stroke-width="1.5" />
<line x1="489.1" y1="1017.9" x2="489.1" y2="1031.0" stroke="#000" stroke-width="1.5" />
<line x1="484.1" y1="1017.9" x2="494.1" y2="1017.9" stroke="#000" stroke-width="1.5" />
<line x1="484.1" y1="1031.0" x2="494.1" y2="1031.0" stroke="#000" stroke-width="1.5" />
<circle cx="527.7" cy="1023.4" r="4.4" fill="none" stroke="#FF0000" stroke-width="1.2"/>
<circle cx="532.7" cy="1031.0" r="4.4" fill="none" stroke="#FF0000" stroke-width="1.2"/>
<circle cx="527.7" cy="1040.3" r="4.4" fill="none" stroke="#FF0000" stroke-width="1.2"/>
<line x1="514.2" y1="1031.0" x2="539.2" y2="1031.0" stroke="#000" stroke-width="1.5" />
<line x1="526.7" y1="1025.5" x2="526.7" y2="1036.0" stroke="#FF0000" stroke-width="1.5" />
<line x1="521.7" y1="1025.5" x2="531.7" y2="1025.5" stroke="#FF0000" stroke-width="1.5" />
<line x1="521.7" y1="1036.0" x2="531.7" y2="1036.0" stroke="#FF0000" stroke-width="1.5" />
<circle cx="559.4" cy="976.8" r="4.4" fill="none" stroke="#000" stroke-width="1.2"/>
<circle cx="565.7" cy="980.2" r="4.4" fill="none" stroke="#000" stroke-width="1.2"/>
<circle cx="570.8" cy="979.8" r="4.4" fill="none" stroke="#000" stroke-width="1.2"/>
<line x1="552.7" y1="979.0" x2="577.7" y2="979.0" stroke="#000" stroke-width="1.5" />
<line x1="565.2" y1="977.5" x2="565.2" y2="980.5" stroke="#000" stroke-width="1.5" />
<line x1="560.2" y1="977.5" x2="570.2" y2="977.5" stroke="#000" stroke-width="1.5" />
<line x1="560.2" y1="980.5" x2="570.2" y2="980.5" stroke="#000" stroke-width="1.5" />
<circle cx="603.8" cy="981.0" r="4.4" fill="none" stroke="#FF0000" stroke-width="1.2"/>
<circle cx="610.0" cy="993.0" r="4.4" fill="none" stroke="#FF0000" stroke-width="1.2"/>
<circle cx="603.8" cy="1002.2" r="4.4" fill="none" stroke="#FF0000" stroke-width="1.2"/>
<line x1="591.2" y1="992.5" x2="616.2" y2="992.5" stroke="#000" stroke-width="1.5" />
<line x1="603.7" y1="986.0" x2="603.7" y2="999.0" stroke="#FF0000" stroke-width="1.5" />
<line x1="598.7" y1="986.0" x2="608.7" y2="986.0" stroke="#FF0000" stroke-width="1.5" />
<line x1="598.7" y1="999.0" x2="608.7" y2="999.0" stroke="#FF0000" stroke-width="1.5" />
<circle cx="641.0" cy="943.9" r="4.4" fill="none" stroke="#000" stroke-width="1.2"/>
<circle cx="641.0" cy="963.3" r="4.4" fill="none" stroke="#000" stroke-width="1.2"/>
<circle cx="641.0" cy="976.0" r="4.4" fill="none" stroke="#000" stroke-width="1.2"/>
<line x1="629.5" y1="962.0" x2="654.5" y2="962.0" stroke="#000" stroke-width="1.5" />
<line x1="642.0" y1="952.3" x2="642.0" y2="971.4" stroke="#000" stroke-width="1.5" />
<line x1="637.0" y1="952.3" x2="647.0" y2="952.3" stroke="#000" stroke-width="1.5" />
<line x1="637.0" y1="971.4" x2="647.0" y2="971.4" stroke="#000" stroke-width="1.5" />
<circle cx="679.9" cy="936.7" r="4.4" fill="none" stroke="#FF0000" stroke-width="1.2"/>
<circle cx="679.9" cy="964.2" r="4.4" fill="none" stroke="#FF0000" stroke-width="1.2"/>
<circle cx="679.9" cy="975.6" r="4.4" fill="none" stroke="#FF0000" stroke-width="1.2"/>
<line x1="667.0" y1="960.0" x2="692.0" y2="960.0" stroke="#000" stroke-width="1.5" />
<line x1="679.5" y1="948.0" x2="679.5" y2="971.4" stroke="#FF0000" stroke-width="1.5" />
<line x1="674.5" y1="948.0" x2="684.5" y2="948.0" stroke="#FF0000" stroke-width="1.5" />
<line x1="674.5" y1="971.4" x2="684.5" y2="971.4" stroke="#FF0000" stroke-width="1.5" />
<circle cx="711.6" cy="1018.3" r="4.4" fill="none" stroke="#000" stroke-width="1.2"/>
<circle cx="718.0" cy="1028.4" r="4.4" fill="none" stroke="#000" stroke-width="1.2"/>
<circle cx="718.0" cy="1042.4" r="4.4" fill="none" stroke="#000" stroke-width="1.2"/>
<line x1="706.1" y1="1029.7" x2="731.1" y2="1029.7" stroke="#000" stroke-width="1.5" />
<line x1="718.6" y1="1022.5" x2="718.6" y2="1036.5" stroke="#000" stroke-width="1.5" />
<line x1="713.6" y1="1022.5" x2="723.6" y2="1022.5" stroke="#000" stroke-width="1.5" />
<line x1="713.6" y1="1036.5" x2="723.6" y2="1036.5" stroke="#000" stroke-width="1.5" />
<circle cx="750.0" cy="1034.0" r="4.4" fill="none" stroke="#FF0000" stroke-width="1.2"/>
<circle cx="756.0" cy="1037.0" r="4.4" fill="none" stroke="#FF0000" stroke-width="1.2"/>
<circle cx="761.5" cy="1037.3" r="4.4" fill="none" stroke="#FF0000" stroke-width="1.2"/>
<line x1="743.1" y1="1036.0" x2="768.1" y2="1036.0" stroke="#000" stroke-width="1.5" />
<line x1="755.6" y1="1035.0" x2="755.6" y2="1037.0" stroke="#FF0000" stroke-width="1.5" />
<line x1="750.6" y1="1035.0" x2="760.6" y2="1035.0" stroke="#FF0000" stroke-width="1.5" />
<line x1="750.6" y1="1037.0" x2="760.6" y2="1037.0" stroke="#FF0000" stroke-width="1.5" />
<text transform="translate(521.5,1106) rotate(-55.5)" font-size="22" text-anchor="end">G/M</text>
<text transform="translate(614,1086) rotate(-55.5)" font-size="22" text-anchor="end">G/M/ADP</text>
<text transform="translate(715.5,1086) rotate(-55.5)" font-size="22" text-anchor="end">G/M/S/ADP</text>
<text transform="translate(784.5,1085.5) rotate(-55.5)" font-size="22" text-anchor="end">ATPase</text>
</svg>
</body></html>
